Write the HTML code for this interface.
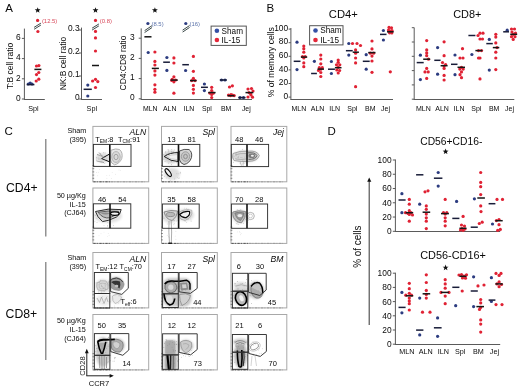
<!DOCTYPE html>
<html><head><meta charset="utf-8"><style>
html,body{margin:0;padding:0;background:#fff;width:520px;height:388px;overflow:hidden;}
svg{display:block;filter:blur(0.3px);font-family:"Liberation Sans", sans-serif;}
</style></head><body>
<svg width="520" height="388" viewBox="0 0 520 388" font-family='"Liberation Sans", sans-serif'>
<rect width="520" height="388" fill="#fff"/>
<text x="5.2" y="12.4" font-size="11.5" text-anchor="start" fill="#0a0a0a" >A</text>
<text x="266.4" y="12.4" font-size="11.5" text-anchor="start" fill="#0a0a0a" >B</text>
<text x="4.6" y="135.2" font-size="11.5" text-anchor="start" fill="#0a0a0a" >C</text>
<text x="327.6" y="134.6" font-size="11.5" text-anchor="start" fill="#0a0a0a" >D</text>
<line x1="24.4" y1="28.6" x2="24.4" y2="99.3" stroke="#5a5a5a" stroke-width="1" />
<line x1="23.9" y1="99.5" x2="44.8" y2="99.5" stroke="#5a5a5a" stroke-width="1" />
<line x1="21.9" y1="99.0" x2="24.4" y2="99.0" stroke="#5a5a5a" stroke-width="1" />
<text x="20.6" y="100.8" font-size="8.4" text-anchor="end" fill="#0a0a0a" >0</text>
<line x1="21.9" y1="78.8" x2="24.4" y2="78.8" stroke="#5a5a5a" stroke-width="1" />
<text x="20.6" y="80.6" font-size="8.4" text-anchor="end" fill="#0a0a0a" >2</text>
<line x1="21.9" y1="58.6" x2="24.4" y2="58.6" stroke="#5a5a5a" stroke-width="1" />
<text x="20.6" y="60.4" font-size="8.4" text-anchor="end" fill="#0a0a0a" >4</text>
<line x1="21.9" y1="38.400000000000006" x2="24.4" y2="38.400000000000006" stroke="#5a5a5a" stroke-width="1" />
<text x="20.6" y="40.2" font-size="8.4" text-anchor="end" fill="#0a0a0a" >6</text>
<text x="10.0" y="66.0" font-size="8.6" text-anchor="middle" fill="#0a0a0a" transform="rotate(-90 10.0 66.0)" dominant-baseline="central" textLength="46.5" lengthAdjust="spacingAndGlyphs">T:B cell ratio</text>
<polygon points="37.70,7.20 38.46,9.25 40.65,9.34 38.94,10.70 39.52,12.81 37.70,11.60 35.88,12.81 36.46,10.70 34.75,9.34 36.94,9.25" fill="#111"/>
<circle cx="37.6" cy="20.4" r="1.6" fill="#e02234"/>
<text x="41.9" y="22.5" font-size="5.9" text-anchor="start" fill="#d8485a" >(12.5)</text>
<line x1="34.1" y1="27.35" x2="40.9" y2="23.15" stroke="#3c4a4a" stroke-width="1.0" />
<line x1="34.1" y1="29.25" x2="40.9" y2="25.049999999999997" stroke="#3c4a4a" stroke-width="1.0" />
<circle cx="37.9" cy="31.5" r="1.6" fill="#e02234"/>
<circle cx="36.5" cy="66" r="1.6" fill="#e02234"/>
<circle cx="38.9" cy="65.6" r="1.6" fill="#e02234"/>
<circle cx="38.8" cy="72.5" r="1.6" fill="#e02234"/>
<circle cx="36.5" cy="74.6" r="1.6" fill="#e02234"/>
<circle cx="38.8" cy="79.2" r="1.6" fill="#e02234"/>
<circle cx="36.2" cy="81" r="1.6" fill="#e02234"/>
<circle cx="28.3" cy="84" r="1.6" fill="#2c3c80"/>
<circle cx="30.2" cy="83.0" r="1.6" fill="#2c3c80"/>
<circle cx="32.0" cy="84.0" r="1.6" fill="#2c3c80"/>
<line x1="26.7" y1="84.6" x2="34.4" y2="84.6" stroke="#181c38" stroke-width="1.5" />
<line x1="34.4" y1="69.4" x2="41.4" y2="69.4" stroke="#151515" stroke-width="1.5" />
<text x="33.5" y="110.6" font-size="7.2" text-anchor="middle" fill="#0a0a0a" >Spl</text>
<line x1="81.5" y1="27.6" x2="81.5" y2="99.3" stroke="#5a5a5a" stroke-width="1" />
<line x1="81.0" y1="99.5" x2="102" y2="99.5" stroke="#5a5a5a" stroke-width="1" />
<line x1="79" y1="99.0" x2="81.5" y2="99.0" stroke="#5a5a5a" stroke-width="1" />
<text x="79.6" y="100.3" font-size="8.4" text-anchor="end" fill="#0a0a0a" >0</text>
<line x1="79" y1="76.0" x2="81.5" y2="76.0" stroke="#5a5a5a" stroke-width="1" />
<text x="79.6" y="77.3" font-size="8.4" text-anchor="end" fill="#0a0a0a" >0.1</text>
<line x1="79" y1="53.0" x2="81.5" y2="53.0" stroke="#5a5a5a" stroke-width="1" />
<text x="79.6" y="54.3" font-size="8.4" text-anchor="end" fill="#0a0a0a" >0.2</text>
<line x1="79" y1="30.0" x2="81.5" y2="30.0" stroke="#5a5a5a" stroke-width="1" />
<text x="79.6" y="31.3" font-size="8.4" text-anchor="end" fill="#0a0a0a" >0.3</text>
<text x="63.0" y="63.6" font-size="8.6" text-anchor="middle" fill="#0a0a0a" transform="rotate(-90 63.0 63.6)" dominant-baseline="central" textLength="53.5" lengthAdjust="spacingAndGlyphs">NK:B cell ratio</text>
<polygon points="95.50,7.20 96.26,9.25 98.45,9.34 96.74,10.70 97.32,12.81 95.50,11.60 93.68,12.81 94.26,10.70 92.55,9.34 94.74,9.25" fill="#111"/>
<circle cx="95.5" cy="20.4" r="1.6" fill="#e02234"/>
<text x="99.8" y="22.5" font-size="5.9" text-anchor="start" fill="#d8485a" >(0.8)</text>
<line x1="92.1" y1="28.150000000000002" x2="98.9" y2="23.95" stroke="#3c4a4a" stroke-width="1.0" />
<line x1="92.1" y1="30.05" x2="98.9" y2="25.849999999999998" stroke="#3c4a4a" stroke-width="1.0" />
<circle cx="95.5" cy="31.4" r="1.6" fill="#e02234"/>
<circle cx="95.5" cy="37.9" r="1.6" fill="#e02234"/>
<circle cx="95.5" cy="51" r="1.6" fill="#e02234"/>
<circle cx="92.6" cy="81" r="1.6" fill="#e02234"/>
<circle cx="95.5" cy="79.3" r="1.6" fill="#e02234"/>
<circle cx="97.8" cy="81.6" r="1.6" fill="#e02234"/>
<circle cx="95.5" cy="87.5" r="1.6" fill="#e02234"/>
<circle cx="87.8" cy="85.1" r="1.6" fill="#2c3c80"/>
<circle cx="87.8" cy="96" r="1.6" fill="#2c3c80"/>
<line x1="83.6" y1="89.3" x2="91.8" y2="89.3" stroke="#181c38" stroke-width="1.5" />
<line x1="92" y1="65.5" x2="99" y2="65.5" stroke="#151515" stroke-width="1.5" />
<text x="91.8" y="110.6" font-size="7.2" text-anchor="middle" fill="#0a0a0a" >Spl</text>
<line x1="141.2" y1="28.4" x2="141.2" y2="99.3" stroke="#5a5a5a" stroke-width="1" />
<line x1="140.7" y1="99.5" x2="252" y2="99.5" stroke="#5a5a5a" stroke-width="1" />
<line x1="138.7" y1="98.8" x2="141.2" y2="98.8" stroke="#5a5a5a" stroke-width="1" />
<text x="134.6" y="100.3" font-size="8.4" text-anchor="end" fill="#0a0a0a" >0</text>
<line x1="138.7" y1="78.6" x2="141.2" y2="78.6" stroke="#5a5a5a" stroke-width="1" />
<text x="134.6" y="80.1" font-size="8.4" text-anchor="end" fill="#0a0a0a" >1</text>
<line x1="138.7" y1="58.4" x2="141.2" y2="58.4" stroke="#5a5a5a" stroke-width="1" />
<text x="134.6" y="59.9" font-size="8.4" text-anchor="end" fill="#0a0a0a" >2</text>
<line x1="138.7" y1="38.2" x2="141.2" y2="38.2" stroke="#5a5a5a" stroke-width="1" />
<text x="134.6" y="39.7" font-size="8.4" text-anchor="end" fill="#0a0a0a" >3</text>
<text x="123.2" y="63.0" font-size="8.6" text-anchor="middle" fill="#0a0a0a" transform="rotate(-90 123.2 63.0)" dominant-baseline="central" textLength="54.8" lengthAdjust="spacingAndGlyphs">CD4:CD8 ratio</text>
<polygon points="154.90,7.20 155.66,9.25 157.85,9.34 156.14,10.70 156.72,12.81 154.90,11.60 153.08,12.81 153.66,10.70 151.95,9.34 154.14,9.25" fill="#111"/>
<circle cx="147.9" cy="23.5" r="1.6" fill="#2c3c80"/>
<text x="151.5" y="25.6" font-size="5.9" text-anchor="start" fill="#5a72aa" >(8.5)</text>
<line x1="144.60000000000002" y1="30.650000000000002" x2="152.0" y2="25.650000000000002" stroke="#3c4a4a" stroke-width="1.0" />
<line x1="144.60000000000002" y1="32.550000000000004" x2="152.0" y2="27.55" stroke="#3c4a4a" stroke-width="1.0" />
<circle cx="185.8" cy="23.5" r="1.6" fill="#2c3c80"/>
<text x="189.5" y="25.6" font-size="5.9" text-anchor="start" fill="#5a72aa" >(16)</text>
<line x1="182.6" y1="30.150000000000002" x2="189.6" y2="25.55" stroke="#3c4a4a" stroke-width="1.0" />
<line x1="182.6" y1="32.050000000000004" x2="189.6" y2="27.45" stroke="#3c4a4a" stroke-width="1.0" />
<line x1="144.4" y1="36.8" x2="151.5" y2="36.8" stroke="#151515" stroke-width="1.5" />
<circle cx="148.2" cy="52.5" r="1.6" fill="#2c3c80"/>
<circle cx="154.9" cy="52" r="1.6" fill="#e02234"/>
<circle cx="154.9" cy="61.4" r="1.6" fill="#e02234"/>
<circle cx="154.9" cy="65" r="1.6" fill="#e02234"/>
<circle cx="154.9" cy="70.9" r="1.6" fill="#e02234"/>
<circle cx="154.9" cy="75.1" r="1.6" fill="#e02234"/>
<circle cx="154.9" cy="84.8" r="1.6" fill="#e02234"/>
<circle cx="154.9" cy="89.3" r="1.6" fill="#e02234"/>
<circle cx="154.9" cy="92.2" r="1.6" fill="#e02234"/>
<line x1="151.8" y1="68.4" x2="158.9" y2="68.4" stroke="#151515" stroke-width="1.5" />
<circle cx="166.9" cy="57.5" r="1.6" fill="#2c3c80"/>
<circle cx="166.9" cy="70.4" r="1.6" fill="#2c3c80"/>
<line x1="163.2" y1="62.2" x2="169.9" y2="62.2" stroke="#181c38" stroke-width="1.5" />
<circle cx="173.9" cy="57.9" r="1.6" fill="#e02234"/>
<circle cx="173.9" cy="63" r="1.6" fill="#e02234"/>
<circle cx="173.9" cy="76.8" r="1.6" fill="#e02234"/>
<circle cx="172.2" cy="79.3" r="1.6" fill="#e02234"/>
<circle cx="175.6" cy="80" r="1.6" fill="#e02234"/>
<circle cx="173.9" cy="81.8" r="1.6" fill="#e02234"/>
<circle cx="173.9" cy="93.2" r="1.6" fill="#e02234"/>
<circle cx="171.8" cy="80.5" r="1.6" fill="#e02234"/>
<line x1="170.6" y1="80.1" x2="177.8" y2="80.1" stroke="#151515" stroke-width="1.5" />
<circle cx="185.6" cy="70.5" r="1.6" fill="#2c3c80"/>
<line x1="182.3" y1="64.7" x2="188.9" y2="64.7" stroke="#181c38" stroke-width="1.5" />
<circle cx="193.4" cy="56.4" r="1.6" fill="#e02234"/>
<circle cx="193.4" cy="71.3" r="1.6" fill="#e02234"/>
<circle cx="193.4" cy="78.3" r="1.6" fill="#e02234"/>
<circle cx="191.8" cy="80.6" r="1.6" fill="#e02234"/>
<circle cx="195" cy="80.6" r="1.6" fill="#e02234"/>
<circle cx="193.4" cy="85.4" r="1.6" fill="#e02234"/>
<circle cx="193.4" cy="89.3" r="1.6" fill="#e02234"/>
<circle cx="193.4" cy="93.1" r="1.6" fill="#e02234"/>
<line x1="190" y1="80.6" x2="196.6" y2="80.6" stroke="#151515" stroke-width="1.5" />
<circle cx="204.4" cy="84" r="1.6" fill="#2c3c80"/>
<circle cx="204.4" cy="90.6" r="1.6" fill="#2c3c80"/>
<line x1="201" y1="87.3" x2="207.9" y2="87.3" stroke="#181c38" stroke-width="1.5" />
<circle cx="211.7" cy="87.3" r="1.6" fill="#e02234"/>
<circle cx="211.7" cy="90.6" r="1.6" fill="#e02234"/>
<circle cx="209.8" cy="93.1" r="1.6" fill="#e02234"/>
<circle cx="213.5" cy="93.1" r="1.6" fill="#e02234"/>
<circle cx="211.7" cy="94.5" r="1.6" fill="#e02234"/>
<circle cx="211.7" cy="97.6" r="1.6" fill="#e02234"/>
<line x1="208.2" y1="92.6" x2="215.6" y2="92.6" stroke="#151515" stroke-width="1.5" />
<circle cx="221.5" cy="80" r="1.6" fill="#2c3c80"/>
<circle cx="225" cy="80" r="1.6" fill="#2c3c80"/>
<line x1="219.8" y1="80" x2="226.8" y2="80" stroke="#181c38" stroke-width="1.5" />
<circle cx="229.5" cy="87" r="1.6" fill="#e02234"/>
<circle cx="232.4" cy="85.8" r="1.6" fill="#e02234"/>
<circle cx="228.5" cy="95.1" r="1.6" fill="#e02234"/>
<circle cx="230.5" cy="95.6" r="1.6" fill="#e02234"/>
<circle cx="232.5" cy="95.1" r="1.6" fill="#e02234"/>
<circle cx="234.2" cy="95.6" r="1.6" fill="#e02234"/>
<circle cx="231" cy="94.5" r="1.6" fill="#e02234"/>
<line x1="227.6" y1="95.7" x2="234.5" y2="95.7" stroke="#151515" stroke-width="1.5" />
<circle cx="240" cy="97.6" r="1.6" fill="#2c3c80"/>
<circle cx="243.5" cy="97.6" r="1.6" fill="#2c3c80"/>
<line x1="238.4" y1="97.6" x2="245.5" y2="97.6" stroke="#181c38" stroke-width="1.5" />
<circle cx="248" cy="89" r="1.6" fill="#e02234"/>
<circle cx="251.5" cy="88.5" r="1.6" fill="#e02234"/>
<circle cx="253" cy="91" r="1.6" fill="#e02234"/>
<circle cx="249" cy="92.6" r="1.6" fill="#e02234"/>
<circle cx="251" cy="95" r="1.6" fill="#e02234"/>
<circle cx="248" cy="97" r="1.6" fill="#e02234"/>
<circle cx="252.5" cy="97.2" r="1.6" fill="#e02234"/>
<circle cx="250.5" cy="93.5" r="1.6" fill="#e02234"/>
<line x1="245.5" y1="92.6" x2="253.3" y2="92.6" stroke="#151515" stroke-width="1.5" />
<text x="150.2" y="111.3" font-size="6.9" text-anchor="middle" fill="#0a0a0a" >MLN</text>
<text x="169.7" y="111.3" font-size="6.9" text-anchor="middle" fill="#0a0a0a" >ALN</text>
<text x="188.9" y="111.3" font-size="6.9" text-anchor="middle" fill="#0a0a0a" >ILN</text>
<text x="206.9" y="111.3" font-size="6.9" text-anchor="middle" fill="#0a0a0a" >Spl</text>
<text x="226.2" y="111.3" font-size="6.9" text-anchor="middle" fill="#0a0a0a" >BM</text>
<text x="246.3" y="111.3" font-size="6.9" text-anchor="middle" fill="#0a0a0a" >Jej</text>
<rect x="211.1" y="26.1" width="35.2" height="19.3" fill="#fff" stroke="#555" stroke-width="1"/>
<circle cx="216.9" cy="30.8" r="2.3" fill="#3550a5"/>
<text x="221.6" y="33.9" font-size="8.2" text-anchor="start" fill="#0a0a0a" >Sham</text>
<circle cx="216.9" cy="40" r="2.3" fill="#e3283a"/>
<text x="221.6" y="42.9" font-size="8.2" text-anchor="start" fill="#0a0a0a" >IL-15</text>
<line x1="290.9" y1="28.0" x2="290.9" y2="99.6" stroke="#5a5a5a" stroke-width="1" />
<line x1="290.4" y1="99.5" x2="393" y2="99.5" stroke="#5a5a5a" stroke-width="1" />
<line x1="288.6" y1="97.1" x2="290.9" y2="97.1" stroke="#5a5a5a" stroke-width="1" />
<text x="288.2" y="98.8" font-size="8.4" text-anchor="end" fill="#0a0a0a" >0</text>
<line x1="288.6" y1="83.5" x2="290.9" y2="83.5" stroke="#5a5a5a" stroke-width="1" />
<text x="288.2" y="85.2" font-size="8.4" text-anchor="end" fill="#0a0a0a" >20</text>
<line x1="288.6" y1="69.89999999999999" x2="290.9" y2="69.89999999999999" stroke="#5a5a5a" stroke-width="1" />
<text x="288.2" y="71.6" font-size="8.4" text-anchor="end" fill="#0a0a0a" >40</text>
<line x1="288.6" y1="56.3" x2="290.9" y2="56.3" stroke="#5a5a5a" stroke-width="1" />
<text x="288.2" y="58.0" font-size="8.4" text-anchor="end" fill="#0a0a0a" >60</text>
<line x1="288.6" y1="42.699999999999996" x2="290.9" y2="42.699999999999996" stroke="#5a5a5a" stroke-width="1" />
<text x="288.2" y="44.4" font-size="8.4" text-anchor="end" fill="#0a0a0a" >80</text>
<line x1="288.6" y1="29.099999999999994" x2="290.9" y2="29.099999999999994" stroke="#5a5a5a" stroke-width="1" />
<text x="288.2" y="30.799999999999994" font-size="8.4" text-anchor="end" fill="#0a0a0a" >100</text>
<text x="271.0" y="62.2" font-size="8.6" text-anchor="middle" fill="#0a0a0a" transform="rotate(-90 271.0 62.2)" dominant-baseline="central" textLength="70.0" lengthAdjust="spacingAndGlyphs">% of memory cells</text>
<text x="328.8" y="18.2" font-size="11.4" text-anchor="start" fill="#0a0a0a" textLength="29.0" lengthAdjust="spacingAndGlyphs">CD4+</text>
<rect x="309.6" y="25.7" width="33.4" height="19.2" fill="#fff" stroke="#555" stroke-width="1"/>
<circle cx="315.5" cy="30.5" r="2.3" fill="#3550a5"/>
<text x="320.3" y="33.4" font-size="8.2" text-anchor="start" fill="#0a0a0a" >Sham</text>
<circle cx="315.5" cy="40" r="2.3" fill="#e3283a"/>
<text x="320.3" y="42.8" font-size="8.2" text-anchor="start" fill="#0a0a0a" >IL-15</text>
<circle cx="297" cy="42.2" r="1.6" fill="#2c3c80"/>
<circle cx="297" cy="69.6" r="1.6" fill="#2c3c80"/>
<line x1="293.7" y1="61.3" x2="300.5" y2="61.3" stroke="#181c38" stroke-width="1.5" />
<circle cx="303.8" cy="46" r="1.6" fill="#e02234"/>
<circle cx="303.8" cy="48.7" r="1.6" fill="#e02234"/>
<circle cx="303.8" cy="52.2" r="1.6" fill="#e02234"/>
<circle cx="302.5" cy="56.5" r="1.6" fill="#e02234"/>
<circle cx="305.2" cy="56.5" r="1.6" fill="#e02234"/>
<circle cx="303.8" cy="58" r="1.6" fill="#e02234"/>
<circle cx="303.8" cy="62.9" r="1.6" fill="#e02234"/>
<circle cx="303.8" cy="66.7" r="1.6" fill="#e02234"/>
<line x1="300.9" y1="57.1" x2="307.2" y2="57.1" stroke="#151515" stroke-width="1.5" />
<circle cx="314.4" cy="61.3" r="1.6" fill="#2c3c80"/>
<line x1="311.1" y1="73.5" x2="316.9" y2="73.5" stroke="#181c38" stroke-width="1.5" />
<circle cx="320.8" cy="55.1" r="1.6" fill="#e02234"/>
<circle cx="320.8" cy="59" r="1.6" fill="#e02234"/>
<circle cx="320.8" cy="63.8" r="1.6" fill="#e02234"/>
<circle cx="319.3" cy="67.7" r="1.6" fill="#e02234"/>
<circle cx="322.3" cy="67.7" r="1.6" fill="#e02234"/>
<circle cx="320.8" cy="69.2" r="1.6" fill="#e02234"/>
<circle cx="320.8" cy="72.5" r="1.6" fill="#e02234"/>
<circle cx="320.8" cy="76.5" r="1.6" fill="#e02234"/>
<circle cx="318.5" cy="70.5" r="1.6" fill="#e02234"/>
<line x1="317.5" y1="69.1" x2="324" y2="69.1" stroke="#151515" stroke-width="1.5" />
<circle cx="331.4" cy="61.5" r="1.6" fill="#2c3c80"/>
<circle cx="331.4" cy="73.5" r="1.6" fill="#2c3c80"/>
<line x1="328" y1="69.2" x2="334.9" y2="69.2" stroke="#181c38" stroke-width="1.5" />
<circle cx="338.2" cy="60" r="1.6" fill="#e02234"/>
<circle cx="338.2" cy="62.3" r="1.6" fill="#e02234"/>
<circle cx="336.5" cy="64.8" r="1.6" fill="#e02234"/>
<circle cx="339.8" cy="64.8" r="1.6" fill="#e02234"/>
<circle cx="338.2" cy="67.3" r="1.6" fill="#e02234"/>
<circle cx="336.8" cy="70" r="1.6" fill="#e02234"/>
<circle cx="339.6" cy="70.5" r="1.6" fill="#e02234"/>
<circle cx="338.2" cy="73" r="1.6" fill="#e02234"/>
<line x1="334.9" y1="67.7" x2="341.5" y2="67.7" stroke="#151515" stroke-width="1.5" />
<circle cx="348.8" cy="43.5" r="1.6" fill="#2c3c80"/>
<circle cx="348.8" cy="55.1" r="1.6" fill="#2c3c80"/>
<line x1="345.9" y1="50.7" x2="352.7" y2="50.7" stroke="#181c38" stroke-width="1.5" />
<circle cx="352.5" cy="43.5" r="1.6" fill="#e02234"/>
<circle cx="357" cy="43.5" r="1.6" fill="#e02234"/>
<circle cx="360.5" cy="45.5" r="1.6" fill="#e02234"/>
<circle cx="355.6" cy="49.9" r="1.6" fill="#e02234"/>
<circle cx="355.6" cy="53.2" r="1.6" fill="#e02234"/>
<circle cx="355.6" cy="58" r="1.6" fill="#e02234"/>
<circle cx="355.6" cy="62.9" r="1.6" fill="#e02234"/>
<circle cx="355.6" cy="86.7" r="1.6" fill="#e02234"/>
<line x1="352.7" y1="52.2" x2="358.9" y2="52.2" stroke="#151515" stroke-width="1.5" />
<circle cx="366.2" cy="54.7" r="1.6" fill="#2c3c80"/>
<circle cx="366.2" cy="69.2" r="1.6" fill="#2c3c80"/>
<line x1="362.8" y1="61.3" x2="369.7" y2="61.3" stroke="#181c38" stroke-width="1.5" />
<circle cx="372" cy="41" r="1.6" fill="#e02234"/>
<circle cx="372" cy="48.9" r="1.6" fill="#e02234"/>
<circle cx="370.4" cy="53.2" r="1.6" fill="#e02234"/>
<circle cx="373.6" cy="53.2" r="1.6" fill="#e02234"/>
<circle cx="372" cy="56.1" r="1.6" fill="#e02234"/>
<circle cx="372" cy="61" r="1.6" fill="#e02234"/>
<circle cx="372" cy="72.3" r="1.6" fill="#e02234"/>
<line x1="368.2" y1="52.6" x2="375.5" y2="52.6" stroke="#151515" stroke-width="1.5" />
<circle cx="383.4" cy="30.5" r="1.6" fill="#2c3c80"/>
<circle cx="383.4" cy="40" r="1.6" fill="#2c3c80"/>
<line x1="380" y1="34.4" x2="386.5" y2="34.4" stroke="#181c38" stroke-width="1.5" />
<circle cx="389" cy="27.4" r="1.6" fill="#e02234"/>
<circle cx="391.5" cy="27.8" r="1.6" fill="#e02234"/>
<circle cx="388.5" cy="30" r="1.6" fill="#e02234"/>
<circle cx="390.3" cy="31" r="1.6" fill="#e02234"/>
<circle cx="392" cy="30.5" r="1.6" fill="#e02234"/>
<circle cx="389.5" cy="32.8" r="1.6" fill="#e02234"/>
<circle cx="391.8" cy="33" r="1.6" fill="#e02234"/>
<circle cx="390.3" cy="71.8" r="1.6" fill="#e02234"/>
<line x1="387" y1="31.8" x2="393.7" y2="31.8" stroke="#151515" stroke-width="1.5" />
<text x="298.9" y="111.0" font-size="7.0" text-anchor="middle" fill="#0a0a0a" >MLN</text>
<text x="317.6" y="111.0" font-size="7.0" text-anchor="middle" fill="#0a0a0a" >ALN</text>
<text x="334.7" y="111.0" font-size="7.0" text-anchor="middle" fill="#0a0a0a" >ILN</text>
<text x="352.3" y="111.0" font-size="7.0" text-anchor="middle" fill="#0a0a0a" >Spl</text>
<text x="370.3" y="111.0" font-size="7.0" text-anchor="middle" fill="#0a0a0a" >BM</text>
<text x="385.5" y="111.0" font-size="7.0" text-anchor="middle" fill="#0a0a0a" >Jej</text>
<line x1="414.2" y1="27.6" x2="414.2" y2="99.6" stroke="#5a5a5a" stroke-width="1" />
<line x1="413.7" y1="99.5" x2="514.3" y2="99.5" stroke="#5a5a5a" stroke-width="1" />
<line x1="411.8" y1="99.2" x2="414.2" y2="99.2" stroke="#5a5a5a" stroke-width="1" />
<line x1="411.8" y1="84.9" x2="414.2" y2="84.9" stroke="#5a5a5a" stroke-width="1" />
<line x1="411.8" y1="70.6" x2="414.2" y2="70.6" stroke="#5a5a5a" stroke-width="1" />
<line x1="411.8" y1="56.3" x2="414.2" y2="56.3" stroke="#5a5a5a" stroke-width="1" />
<line x1="411.8" y1="42.0" x2="414.2" y2="42.0" stroke="#5a5a5a" stroke-width="1" />
<line x1="411.8" y1="27.700000000000003" x2="414.2" y2="27.700000000000003" stroke="#5a5a5a" stroke-width="1" />
<text x="453.2" y="18.2" font-size="11.4" text-anchor="start" fill="#0a0a0a" textLength="28.2" lengthAdjust="spacingAndGlyphs">CD8+</text>
<circle cx="420.4" cy="55.2" r="1.6" fill="#2c3c80"/>
<circle cx="420.4" cy="79.6" r="1.6" fill="#2c3c80"/>
<line x1="416.7" y1="62.6" x2="423.7" y2="62.6" stroke="#181c38" stroke-width="1.5" />
<circle cx="426.7" cy="40.6" r="1.6" fill="#e02234"/>
<circle cx="426.7" cy="49.9" r="1.6" fill="#e02234"/>
<circle cx="426.7" cy="52.9" r="1.6" fill="#e02234"/>
<circle cx="426.7" cy="55.7" r="1.6" fill="#e02234"/>
<circle cx="428.5" cy="59.2" r="1.6" fill="#e02234"/>
<circle cx="426.7" cy="68.4" r="1.6" fill="#e02234"/>
<circle cx="425" cy="71.9" r="1.6" fill="#e02234"/>
<circle cx="428.2" cy="71.9" r="1.6" fill="#e02234"/>
<circle cx="426.7" cy="78.4" r="1.6" fill="#e02234"/>
<line x1="423.2" y1="59.2" x2="430.2" y2="59.2" stroke="#151515" stroke-width="1.5" />
<circle cx="437.6" cy="47.6" r="1.6" fill="#2c3c80"/>
<circle cx="437.6" cy="74.2" r="1.6" fill="#2c3c80"/>
<line x1="434.3" y1="60.3" x2="440.6" y2="60.3" stroke="#181c38" stroke-width="1.5" />
<circle cx="444.1" cy="41.8" r="1.6" fill="#e02234"/>
<circle cx="444.1" cy="55.7" r="1.6" fill="#e02234"/>
<circle cx="442.5" cy="62.6" r="1.6" fill="#e02234"/>
<circle cx="445.6" cy="64.5" r="1.6" fill="#e02234"/>
<circle cx="444.1" cy="66" r="1.6" fill="#e02234"/>
<circle cx="444.1" cy="68.4" r="1.6" fill="#e02234"/>
<circle cx="444.1" cy="75.4" r="1.6" fill="#e02234"/>
<circle cx="444.1" cy="80" r="1.6" fill="#e02234"/>
<line x1="440.6" y1="65.7" x2="447.6" y2="65.7" stroke="#151515" stroke-width="1.5" />
<circle cx="455" cy="55" r="1.6" fill="#2c3c80"/>
<circle cx="455" cy="74.7" r="1.6" fill="#2c3c80"/>
<line x1="451" y1="64.3" x2="457.5" y2="64.3" stroke="#181c38" stroke-width="1.5" />
<circle cx="462.5" cy="48.7" r="1.6" fill="#e02234"/>
<circle cx="460" cy="58" r="1.6" fill="#e02234"/>
<circle cx="463" cy="58" r="1.6" fill="#e02234"/>
<circle cx="461.5" cy="67.3" r="1.6" fill="#e02234"/>
<circle cx="459.8" cy="69.1" r="1.6" fill="#e02234"/>
<circle cx="463.2" cy="69.1" r="1.6" fill="#e02234"/>
<circle cx="461.5" cy="71.9" r="1.6" fill="#e02234"/>
<circle cx="460" cy="74.7" r="1.6" fill="#e02234"/>
<circle cx="461.5" cy="77.7" r="1.6" fill="#e02234"/>
<line x1="457.5" y1="67.3" x2="465" y2="67.3" stroke="#151515" stroke-width="1.5" />
<circle cx="471.9" cy="54.5" r="1.6" fill="#2c3c80"/>
<line x1="468.4" y1="35.5" x2="475.4" y2="35.5" stroke="#181c38" stroke-width="1.5" />
<circle cx="480" cy="33.2" r="1.6" fill="#e02234"/>
<circle cx="483" cy="33.2" r="1.6" fill="#e02234"/>
<circle cx="478" cy="35.5" r="1.6" fill="#e02234"/>
<circle cx="480" cy="39" r="1.6" fill="#e02234"/>
<circle cx="482.5" cy="39" r="1.6" fill="#e02234"/>
<circle cx="478.5" cy="50.6" r="1.6" fill="#e02234"/>
<circle cx="481.5" cy="50.6" r="1.6" fill="#e02234"/>
<circle cx="480" cy="58" r="1.6" fill="#e02234"/>
<circle cx="478.5" cy="58" r="1.6" fill="#e02234"/>
<circle cx="480" cy="78.9" r="1.6" fill="#e02234"/>
<line x1="475.4" y1="50.6" x2="482.4" y2="50.6" stroke="#151515" stroke-width="1.5" />
<circle cx="489.3" cy="39.4" r="1.6" fill="#2c3c80"/>
<circle cx="489.3" cy="70.1" r="1.6" fill="#2c3c80"/>
<line x1="486.3" y1="43.6" x2="492.8" y2="43.6" stroke="#181c38" stroke-width="1.5" />
<circle cx="495.8" cy="34.3" r="1.6" fill="#e02234"/>
<circle cx="495.8" cy="37.1" r="1.6" fill="#e02234"/>
<circle cx="495.8" cy="42.9" r="1.6" fill="#e02234"/>
<circle cx="497" cy="47.6" r="1.6" fill="#e02234"/>
<circle cx="495.8" cy="52.2" r="1.6" fill="#e02234"/>
<circle cx="495.8" cy="58" r="1.6" fill="#e02234"/>
<circle cx="495.8" cy="69.6" r="1.6" fill="#e02234"/>
<line x1="492.8" y1="47.6" x2="499.3" y2="47.6" stroke="#151515" stroke-width="1.5" />
<circle cx="507.2" cy="30.2" r="1.6" fill="#2c3c80"/>
<line x1="503.2" y1="31.8" x2="509" y2="31.8" stroke="#181c38" stroke-width="1.5" />
<circle cx="511.5" cy="29" r="1.6" fill="#e02234"/>
<circle cx="514.5" cy="29" r="1.6" fill="#e02234"/>
<circle cx="512" cy="32" r="1.6" fill="#e02234"/>
<circle cx="515.5" cy="33" r="1.6" fill="#e02234"/>
<circle cx="513.2" cy="34.3" r="1.6" fill="#e02234"/>
<circle cx="511.5" cy="36.7" r="1.6" fill="#e02234"/>
<circle cx="515" cy="36.7" r="1.6" fill="#e02234"/>
<circle cx="513.2" cy="39.4" r="1.6" fill="#e02234"/>
<line x1="510.2" y1="34.3" x2="517.2" y2="34.3" stroke="#151515" stroke-width="1.5" />
<text x="423.3" y="111.0" font-size="7.0" text-anchor="middle" fill="#0a0a0a" >MLN</text>
<text x="442.1" y="111.0" font-size="7.0" text-anchor="middle" fill="#0a0a0a" >ALN</text>
<text x="459.0" y="111.0" font-size="7.0" text-anchor="middle" fill="#0a0a0a" >ILN</text>
<text x="476.3" y="111.0" font-size="7.0" text-anchor="middle" fill="#0a0a0a" >Spl</text>
<text x="494.2" y="111.0" font-size="7.0" text-anchor="middle" fill="#0a0a0a" >BM</text>
<text x="509.6" y="111.0" font-size="7.0" text-anchor="middle" fill="#0a0a0a" >Jej</text>
<line x1="45.8" y1="139" x2="45.8" y2="236.4" stroke="#777" stroke-width="1.2" />
<line x1="45.8" y1="262" x2="45.8" y2="360" stroke="#777" stroke-width="1.2" />
<text x="6.0" y="192.4" font-size="12.2" text-anchor="start" fill="#0a0a0a" textLength="31.6" lengthAdjust="spacingAndGlyphs">CD4+</text>
<text x="5.6" y="317.6" font-size="12.2" text-anchor="start" fill="#0a0a0a" textLength="31.6" lengthAdjust="spacingAndGlyphs">CD8+</text>
<text x="86.2" y="133.4" font-size="7.2" text-anchor="end" fill="#0a0a0a" >Sham</text>
<text x="86.2" y="142.0" font-size="7.2" text-anchor="end" fill="#0a0a0a" >(395)</text>
<text x="86.2" y="260.0" font-size="7.2" text-anchor="end" fill="#0a0a0a" >Sham</text>
<text x="86.2" y="268.6" font-size="7.2" text-anchor="end" fill="#0a0a0a" >(395)</text>
<text x="85.8" y="197.6" font-size="7.2" text-anchor="end" fill="#0a0a0a" >50 µg/Kg</text>
<text x="85.8" y="206.6" font-size="7.2" text-anchor="end" fill="#0a0a0a" >IL-15</text>
<text x="85.8" y="215.1" font-size="7.2" text-anchor="end" fill="#0a0a0a" >(CJ64)</text>
<text x="85.8" y="323.1" font-size="7.2" text-anchor="end" fill="#0a0a0a" >50 µg/Kg</text>
<text x="85.8" y="332.1" font-size="7.2" text-anchor="end" fill="#0a0a0a" >IL-15</text>
<text x="85.8" y="340.6" font-size="7.2" text-anchor="end" fill="#0a0a0a" >(CJ64)</text>
<line x1="395.4" y1="159.5" x2="395.4" y2="231.8" stroke="#5a5a5a" stroke-width="1" />
<line x1="394.9" y1="231.5" x2="500.2" y2="231.5" stroke="#5a5a5a" stroke-width="1" />
<line x1="392.8" y1="231.3" x2="395.4" y2="231.3" stroke="#5a5a5a" stroke-width="1" />
<text x="391.6" y="234.20000000000002" font-size="8.4" text-anchor="end" fill="#0a0a0a" >0</text>
<line x1="392.8" y1="217.04000000000002" x2="395.4" y2="217.04000000000002" stroke="#5a5a5a" stroke-width="1" />
<text x="391.6" y="219.94000000000003" font-size="8.4" text-anchor="end" fill="#0a0a0a" >20</text>
<line x1="392.8" y1="202.78" x2="395.4" y2="202.78" stroke="#5a5a5a" stroke-width="1" />
<text x="391.6" y="205.68" font-size="8.4" text-anchor="end" fill="#0a0a0a" >40</text>
<line x1="392.8" y1="188.52" x2="395.4" y2="188.52" stroke="#5a5a5a" stroke-width="1" />
<text x="391.6" y="191.42000000000002" font-size="8.4" text-anchor="end" fill="#0a0a0a" >60</text>
<line x1="392.8" y1="174.26" x2="395.4" y2="174.26" stroke="#5a5a5a" stroke-width="1" />
<text x="391.6" y="177.16" font-size="8.4" text-anchor="end" fill="#0a0a0a" >80</text>
<line x1="392.8" y1="160.0" x2="395.4" y2="160.0" stroke="#5a5a5a" stroke-width="1" />
<text x="391.6" y="162.9" font-size="8.4" text-anchor="end" fill="#0a0a0a" >100</text>
<text x="420.2" y="145.2" font-size="10.4" text-anchor="start" fill="#0a0a0a" textLength="62.2" lengthAdjust="spacingAndGlyphs">CD56+CD16-</text>
<polygon points="445.60,148.50 446.36,150.55 448.55,150.64 446.84,152.00 447.42,154.11 445.60,152.90 443.78,154.11 444.36,152.00 442.65,150.64 444.84,150.55" fill="#111"/>
<line x1="395.4" y1="272.7" x2="395.4" y2="344.7" stroke="#5a5a5a" stroke-width="1" />
<line x1="394.9" y1="344.5" x2="500.2" y2="344.5" stroke="#5a5a5a" stroke-width="1" />
<line x1="392.8" y1="344.2" x2="395.4" y2="344.2" stroke="#5a5a5a" stroke-width="1" />
<text x="391.6" y="347.09999999999997" font-size="8.4" text-anchor="end" fill="#0a0a0a" >0</text>
<line x1="392.8" y1="330.0" x2="395.4" y2="330.0" stroke="#5a5a5a" stroke-width="1" />
<text x="391.6" y="332.9" font-size="8.4" text-anchor="end" fill="#0a0a0a" >20</text>
<line x1="392.8" y1="315.8" x2="395.4" y2="315.8" stroke="#5a5a5a" stroke-width="1" />
<text x="391.6" y="318.7" font-size="8.4" text-anchor="end" fill="#0a0a0a" >40</text>
<line x1="392.8" y1="301.6" x2="395.4" y2="301.6" stroke="#5a5a5a" stroke-width="1" />
<text x="391.6" y="304.5" font-size="8.4" text-anchor="end" fill="#0a0a0a" >60</text>
<line x1="392.8" y1="287.4" x2="395.4" y2="287.4" stroke="#5a5a5a" stroke-width="1" />
<text x="391.6" y="290.29999999999995" font-size="8.4" text-anchor="end" fill="#0a0a0a" >80</text>
<line x1="392.8" y1="273.2" x2="395.4" y2="273.2" stroke="#5a5a5a" stroke-width="1" />
<text x="391.6" y="276.09999999999997" font-size="8.4" text-anchor="end" fill="#0a0a0a" >100</text>
<text x="420.2" y="259.3" font-size="10.4" text-anchor="start" fill="#0a0a0a" textLength="65.8" lengthAdjust="spacingAndGlyphs">CD56-CD16+</text>
<polygon points="445.60,264.60 446.36,266.65 448.55,266.74 446.84,268.10 447.42,270.21 445.60,269.00 443.78,270.21 444.36,268.10 442.65,266.74 444.84,266.65" fill="#111"/>
<line x1="369.2" y1="325" x2="369.2" y2="181" stroke="#444" stroke-width="1.1" />
<path d="M367.2,181.8 L369.2,177.6 L371.3,181.8 Z" fill="#111"/>
<text x="357.2" y="246.6" font-size="10" text-anchor="middle" fill="#0a0a0a" transform="rotate(-90 357.2 246.6)" dominant-baseline="central" textLength="42.3" lengthAdjust="spacingAndGlyphs">% of cells</text>
<text x="406.9" y="354.20000000000005" font-size="7.2" text-anchor="middle" fill="#0a0a0a" >MLN</text>
<text x="425.8" y="354.20000000000005" font-size="7.2" text-anchor="middle" fill="#0a0a0a" >ALN</text>
<text x="443.3" y="354.20000000000005" font-size="7.2" text-anchor="middle" fill="#0a0a0a" >ILN</text>
<text x="460.2" y="354.20000000000005" font-size="7.2" text-anchor="middle" fill="#0a0a0a" >Spl</text>
<text x="478.3" y="354.20000000000005" font-size="7.2" text-anchor="middle" fill="#0a0a0a" >BM</text>
<text x="494.4" y="354.20000000000005" font-size="7.2" text-anchor="middle" fill="#0a0a0a" >Jej</text>
<circle cx="401.9" cy="193.7" r="1.6" fill="#2c3c80"/>
<circle cx="401.9" cy="212.7" r="1.6" fill="#2c3c80"/>
<line x1="398.5" y1="200" x2="405.6" y2="200" stroke="#181c38" stroke-width="1.5" />
<circle cx="409.3" cy="199.4" r="1.6" fill="#e02234"/>
<circle cx="409.3" cy="204.2" r="1.6" fill="#e02234"/>
<circle cx="409.3" cy="210.7" r="1.6" fill="#e02234"/>
<circle cx="405.5" cy="212.7" r="1.6" fill="#e02234"/>
<circle cx="411" cy="212.7" r="1.6" fill="#e02234"/>
<circle cx="408" cy="213.5" r="1.6" fill="#e02234"/>
<circle cx="409.3" cy="214.4" r="1.6" fill="#e02234"/>
<circle cx="412.5" cy="215" r="1.6" fill="#e02234"/>
<circle cx="409.3" cy="221.2" r="1.6" fill="#e02234"/>
<line x1="405.6" y1="212.7" x2="413.2" y2="212.7" stroke="#151515" stroke-width="1.5" />
<circle cx="419.7" cy="204.2" r="1.6" fill="#2c3c80"/>
<line x1="416.1" y1="174.8" x2="423.4" y2="174.8" stroke="#181c38" stroke-width="1.5" />
<circle cx="425" cy="191.8" r="1.6" fill="#e02234"/>
<circle cx="428" cy="190.8" r="1.6" fill="#e02234"/>
<circle cx="426.3" cy="205.9" r="1.6" fill="#e02234"/>
<circle cx="426.3" cy="209.3" r="1.6" fill="#e02234"/>
<circle cx="426.3" cy="214.1" r="1.6" fill="#e02234"/>
<circle cx="426.3" cy="217.8" r="1.6" fill="#e02234"/>
<circle cx="426.3" cy="221.2" r="1.6" fill="#e02234"/>
<circle cx="426.3" cy="228.6" r="1.6" fill="#e02234"/>
<line x1="422.6" y1="212.2" x2="430.2" y2="212.2" stroke="#151515" stroke-width="1.5" />
<circle cx="438.2" cy="172.5" r="1.6" fill="#2c3c80"/>
<circle cx="438.2" cy="186.1" r="1.6" fill="#2c3c80"/>
<line x1="433.9" y1="178.2" x2="442.4" y2="178.2" stroke="#181c38" stroke-width="1.5" />
<circle cx="445.2" cy="199.4" r="1.6" fill="#e02234"/>
<circle cx="443.5" cy="212.7" r="1.6" fill="#e02234"/>
<circle cx="446.8" cy="212.7" r="1.6" fill="#e02234"/>
<circle cx="445.2" cy="214.1" r="1.6" fill="#e02234"/>
<circle cx="445.2" cy="217.8" r="1.6" fill="#e02234"/>
<circle cx="445.2" cy="221.2" r="1.6" fill="#e02234"/>
<circle cx="445.2" cy="225.8" r="1.6" fill="#e02234"/>
<line x1="441" y1="213.6" x2="448.9" y2="213.6" stroke="#151515" stroke-width="1.5" />
<circle cx="456.6" cy="201.4" r="1.6" fill="#2c3c80"/>
<line x1="452.3" y1="218.4" x2="459.4" y2="218.4" stroke="#181c38" stroke-width="1.5" />
<circle cx="463.1" cy="216.4" r="1.6" fill="#e02234"/>
<circle cx="461.5" cy="225" r="1.6" fill="#e02234"/>
<circle cx="464.5" cy="226" r="1.6" fill="#e02234"/>
<circle cx="462" cy="228.5" r="1.6" fill="#e02234"/>
<circle cx="465" cy="229" r="1.6" fill="#e02234"/>
<circle cx="463.1" cy="230.3" r="1.6" fill="#e02234"/>
<circle cx="460.5" cy="230" r="1.6" fill="#e02234"/>
<line x1="459.4" y1="228.3" x2="466.5" y2="228.3" stroke="#151515" stroke-width="1.5" />
<circle cx="474.4" cy="198.8" r="1.6" fill="#2c3c80"/>
<line x1="470.7" y1="227.2" x2="477.8" y2="227.2" stroke="#181c38" stroke-width="1.5" />
<circle cx="480.7" cy="172.5" r="1.6" fill="#e02234"/>
<circle cx="480.7" cy="182.4" r="1.6" fill="#e02234"/>
<circle cx="480.7" cy="186.7" r="1.6" fill="#e02234"/>
<circle cx="480.7" cy="194.6" r="1.6" fill="#e02234"/>
<circle cx="480.7" cy="205.9" r="1.6" fill="#e02234"/>
<circle cx="481" cy="211.6" r="1.6" fill="#e02234"/>
<circle cx="479.3" cy="223.5" r="1.6" fill="#e02234"/>
<circle cx="482.2" cy="222.2" r="1.6" fill="#e02234"/>
<line x1="477.3" y1="198" x2="484.9" y2="198" stroke="#151515" stroke-width="1.5" />
<circle cx="492.5" cy="224" r="1.6" fill="#2c3c80"/>
<line x1="488.6" y1="203.7" x2="495.4" y2="203.7" stroke="#181c38" stroke-width="1.5" />
<circle cx="497" cy="199.4" r="1.6" fill="#e02234"/>
<circle cx="502.5" cy="199.4" r="1.6" fill="#e02234"/>
<circle cx="496.4" cy="220.6" r="1.6" fill="#e02234"/>
<circle cx="499" cy="219.6" r="1.6" fill="#e02234"/>
<circle cx="499" cy="224.7" r="1.6" fill="#e02234"/>
<circle cx="497.7" cy="230.3" r="1.6" fill="#e02234"/>
<circle cx="500.3" cy="229.4" r="1.6" fill="#e02234"/>
<line x1="495.4" y1="220.7" x2="502.7" y2="220.7" stroke="#151515" stroke-width="1.5" />
<circle cx="401.9" cy="292.4" r="1.6" fill="#2c3c80"/>
<circle cx="401.9" cy="312.8" r="1.6" fill="#2c3c80"/>
<line x1="398.5" y1="307.4" x2="405.6" y2="307.4" stroke="#181c38" stroke-width="1.5" />
<circle cx="409.3" cy="283.3" r="1.6" fill="#e02234"/>
<circle cx="409.3" cy="288.7" r="1.6" fill="#e02234"/>
<circle cx="409.3" cy="293.3" r="1.6" fill="#e02234"/>
<circle cx="405.8" cy="295.2" r="1.6" fill="#e02234"/>
<circle cx="411.5" cy="295.2" r="1.6" fill="#e02234"/>
<circle cx="409.3" cy="298.1" r="1.6" fill="#e02234"/>
<circle cx="409.3" cy="300.9" r="1.6" fill="#e02234"/>
<circle cx="409.3" cy="303.7" r="1.6" fill="#e02234"/>
<circle cx="409.3" cy="310" r="1.6" fill="#e02234"/>
<line x1="405.6" y1="295.8" x2="413.2" y2="295.8" stroke="#151515" stroke-width="1.5" />
<circle cx="419.7" cy="298.1" r="1.6" fill="#2c3c80"/>
<circle cx="419.7" cy="334.9" r="1.6" fill="#2c3c80"/>
<line x1="416.1" y1="330.1" x2="423.4" y2="330.1" stroke="#181c38" stroke-width="1.5" />
<circle cx="426.3" cy="274.8" r="1.6" fill="#e02234"/>
<circle cx="426.3" cy="282.5" r="1.6" fill="#e02234"/>
<circle cx="426.3" cy="290.4" r="1.6" fill="#e02234"/>
<circle cx="426.3" cy="294.4" r="1.6" fill="#e02234"/>
<circle cx="426.3" cy="298.1" r="1.6" fill="#e02234"/>
<circle cx="422.5" cy="312.2" r="1.6" fill="#e02234"/>
<circle cx="430" cy="312.2" r="1.6" fill="#e02234"/>
<line x1="422.6" y1="293.8" x2="430.2" y2="293.8" stroke="#151515" stroke-width="1.5" />
<circle cx="437.6" cy="317.9" r="1.6" fill="#2c3c80"/>
<circle cx="437.6" cy="336.3" r="1.6" fill="#2c3c80"/>
<line x1="433.9" y1="327.8" x2="441.6" y2="327.8" stroke="#181c38" stroke-width="1.5" />
<circle cx="445.2" cy="279.7" r="1.6" fill="#e02234"/>
<circle cx="445.2" cy="283.9" r="1.6" fill="#e02234"/>
<circle cx="445.2" cy="288.2" r="1.6" fill="#e02234"/>
<circle cx="441" cy="292.4" r="1.6" fill="#e02234"/>
<circle cx="449" cy="292.4" r="1.6" fill="#e02234"/>
<circle cx="445.2" cy="296.1" r="1.6" fill="#e02234"/>
<circle cx="445.2" cy="303.7" r="1.6" fill="#e02234"/>
<line x1="441" y1="292.4" x2="448.9" y2="292.4" stroke="#151515" stroke-width="1.5" />
<circle cx="455.7" cy="305.7" r="1.6" fill="#2c3c80"/>
<line x1="452.3" y1="287.3" x2="459.4" y2="287.3" stroke="#181c38" stroke-width="1.5" />
<circle cx="459" cy="275" r="1.6" fill="#e02234"/>
<circle cx="461.5" cy="274.6" r="1.6" fill="#e02234"/>
<circle cx="464" cy="276" r="1.6" fill="#e02234"/>
<circle cx="466.5" cy="274.8" r="1.6" fill="#e02234"/>
<circle cx="462.5" cy="278" r="1.6" fill="#e02234"/>
<circle cx="465.5" cy="278.2" r="1.6" fill="#e02234"/>
<circle cx="462.2" cy="291" r="1.6" fill="#e02234"/>
<line x1="459.4" y1="276.3" x2="466.5" y2="276.3" stroke="#151515" stroke-width="1.5" />
<circle cx="473.6" cy="276.8" r="1.6" fill="#2c3c80"/>
<circle cx="473.6" cy="306.6" r="1.6" fill="#2c3c80"/>
<line x1="470.7" y1="291" x2="477.8" y2="291" stroke="#181c38" stroke-width="1.5" />
<circle cx="478" cy="285.9" r="1.6" fill="#e02234"/>
<circle cx="484" cy="285" r="1.6" fill="#e02234"/>
<circle cx="480.7" cy="299.5" r="1.6" fill="#e02234"/>
<circle cx="480.7" cy="302.9" r="1.6" fill="#e02234"/>
<circle cx="480.7" cy="307.4" r="1.6" fill="#e02234"/>
<circle cx="479.5" cy="309.4" r="1.6" fill="#e02234"/>
<circle cx="480.7" cy="319.9" r="1.6" fill="#e02234"/>
<circle cx="480.7" cy="324.1" r="1.6" fill="#e02234"/>
<circle cx="480.7" cy="332.1" r="1.6" fill="#e02234"/>
<line x1="476.4" y1="306.6" x2="484" y2="306.6" stroke="#151515" stroke-width="1.5" />
<circle cx="491.4" cy="277.7" r="1.6" fill="#2c3c80"/>
<circle cx="491.4" cy="301.5" r="1.6" fill="#2c3c80"/>
<line x1="488.6" y1="300.1" x2="495.4" y2="300.1" stroke="#181c38" stroke-width="1.5" />
<circle cx="496" cy="273.4" r="1.6" fill="#e02234"/>
<circle cx="501" cy="273.4" r="1.6" fill="#e02234"/>
<circle cx="499.1" cy="275.4" r="1.6" fill="#e02234"/>
<circle cx="499.1" cy="281.9" r="1.6" fill="#e02234"/>
<circle cx="497" cy="283.9" r="1.6" fill="#e02234"/>
<circle cx="501.5" cy="284.5" r="1.6" fill="#e02234"/>
<circle cx="499.1" cy="286.7" r="1.6" fill="#e02234"/>
<circle cx="496" cy="304.6" r="1.6" fill="#e02234"/>
<circle cx="502" cy="304.6" r="1.6" fill="#e02234"/>
<line x1="495.4" y1="283.9" x2="502.7" y2="283.9" stroke="#151515" stroke-width="1.5" />
<defs><filter id="bl" x="-10%" y="-10%" width="120%" height="120%"><feGaussianBlur stdDeviation="0.55"/></filter><filter id="bl2" x="-20%" y="-20%" width="140%" height="140%"><feGaussianBlur stdDeviation="1.2"/></filter></defs>
<rect x="92.9" y="126.4" width="55.8" height="55.4" fill="none" stroke="#a8a8a8" stroke-width="1"/>
<line x1="92.5" y1="178.3" x2="94.2" y2="178.3" stroke="#666" stroke-width="0.8"/>
<line x1="92.5" y1="175.10000000000002" x2="94.2" y2="175.10000000000002" stroke="#666" stroke-width="0.8"/>
<line x1="92.5" y1="171.9" x2="94.2" y2="171.9" stroke="#666" stroke-width="0.8"/>
<line x1="92.5" y1="168.70000000000002" x2="94.2" y2="168.70000000000002" stroke="#666" stroke-width="0.8"/>
<line x1="92.5" y1="165.5" x2="94.2" y2="165.5" stroke="#666" stroke-width="0.8"/>
<line x1="93.4" y1="181.8" x2="110.9" y2="181.8" stroke="#555" stroke-width="1" stroke-dasharray="2.2 1.2 1 1.6"/>
<line x1="110.9" y1="181.8" x2="144.9" y2="181.8" stroke="#999" stroke-width="0.9" stroke-dasharray="2.2 1.2 1 1.6"/>
<rect x="161.5" y="126.4" width="55.8" height="55.4" fill="none" stroke="#a8a8a8" stroke-width="1"/>
<line x1="161.1" y1="178.3" x2="162.8" y2="178.3" stroke="#666" stroke-width="0.8"/>
<line x1="161.1" y1="175.10000000000002" x2="162.8" y2="175.10000000000002" stroke="#666" stroke-width="0.8"/>
<line x1="161.1" y1="171.9" x2="162.8" y2="171.9" stroke="#666" stroke-width="0.8"/>
<line x1="161.1" y1="168.70000000000002" x2="162.8" y2="168.70000000000002" stroke="#666" stroke-width="0.8"/>
<line x1="161.1" y1="165.5" x2="162.8" y2="165.5" stroke="#666" stroke-width="0.8"/>
<line x1="162.0" y1="181.8" x2="179.5" y2="181.8" stroke="#555" stroke-width="1" stroke-dasharray="2.2 1.2 1 1.6"/>
<line x1="179.5" y1="181.8" x2="213.5" y2="181.8" stroke="#999" stroke-width="0.9" stroke-dasharray="2.2 1.2 1 1.6"/>
<rect x="231.0" y="126.4" width="55.8" height="55.4" fill="none" stroke="#a8a8a8" stroke-width="1"/>
<line x1="230.6" y1="178.3" x2="232.3" y2="178.3" stroke="#666" stroke-width="0.8"/>
<line x1="230.6" y1="175.10000000000002" x2="232.3" y2="175.10000000000002" stroke="#666" stroke-width="0.8"/>
<line x1="230.6" y1="171.9" x2="232.3" y2="171.9" stroke="#666" stroke-width="0.8"/>
<line x1="230.6" y1="168.70000000000002" x2="232.3" y2="168.70000000000002" stroke="#666" stroke-width="0.8"/>
<line x1="230.6" y1="165.5" x2="232.3" y2="165.5" stroke="#666" stroke-width="0.8"/>
<line x1="231.5" y1="181.8" x2="249.0" y2="181.8" stroke="#555" stroke-width="1" stroke-dasharray="2.2 1.2 1 1.6"/>
<line x1="249.0" y1="181.8" x2="283.0" y2="181.8" stroke="#999" stroke-width="0.9" stroke-dasharray="2.2 1.2 1 1.6"/>
<rect x="92.9" y="188.0" width="55.8" height="55.4" fill="none" stroke="#a8a8a8" stroke-width="1"/>
<line x1="92.5" y1="239.9" x2="94.2" y2="239.9" stroke="#666" stroke-width="0.8"/>
<line x1="92.5" y1="236.70000000000002" x2="94.2" y2="236.70000000000002" stroke="#666" stroke-width="0.8"/>
<line x1="92.5" y1="233.5" x2="94.2" y2="233.5" stroke="#666" stroke-width="0.8"/>
<line x1="92.5" y1="230.3" x2="94.2" y2="230.3" stroke="#666" stroke-width="0.8"/>
<line x1="92.5" y1="227.1" x2="94.2" y2="227.1" stroke="#666" stroke-width="0.8"/>
<line x1="93.4" y1="243.4" x2="110.9" y2="243.4" stroke="#555" stroke-width="1" stroke-dasharray="2.2 1.2 1 1.6"/>
<line x1="110.9" y1="243.4" x2="144.9" y2="243.4" stroke="#999" stroke-width="0.9" stroke-dasharray="2.2 1.2 1 1.6"/>
<rect x="161.5" y="188.0" width="55.8" height="55.4" fill="none" stroke="#a8a8a8" stroke-width="1"/>
<line x1="161.1" y1="239.9" x2="162.8" y2="239.9" stroke="#666" stroke-width="0.8"/>
<line x1="161.1" y1="236.70000000000002" x2="162.8" y2="236.70000000000002" stroke="#666" stroke-width="0.8"/>
<line x1="161.1" y1="233.5" x2="162.8" y2="233.5" stroke="#666" stroke-width="0.8"/>
<line x1="161.1" y1="230.3" x2="162.8" y2="230.3" stroke="#666" stroke-width="0.8"/>
<line x1="161.1" y1="227.1" x2="162.8" y2="227.1" stroke="#666" stroke-width="0.8"/>
<line x1="162.0" y1="243.4" x2="179.5" y2="243.4" stroke="#555" stroke-width="1" stroke-dasharray="2.2 1.2 1 1.6"/>
<line x1="179.5" y1="243.4" x2="213.5" y2="243.4" stroke="#999" stroke-width="0.9" stroke-dasharray="2.2 1.2 1 1.6"/>
<rect x="231.0" y="188.0" width="55.8" height="55.4" fill="none" stroke="#a8a8a8" stroke-width="1"/>
<line x1="230.6" y1="239.9" x2="232.3" y2="239.9" stroke="#666" stroke-width="0.8"/>
<line x1="230.6" y1="236.70000000000002" x2="232.3" y2="236.70000000000002" stroke="#666" stroke-width="0.8"/>
<line x1="230.6" y1="233.5" x2="232.3" y2="233.5" stroke="#666" stroke-width="0.8"/>
<line x1="230.6" y1="230.3" x2="232.3" y2="230.3" stroke="#666" stroke-width="0.8"/>
<line x1="230.6" y1="227.1" x2="232.3" y2="227.1" stroke="#666" stroke-width="0.8"/>
<line x1="231.5" y1="243.4" x2="249.0" y2="243.4" stroke="#555" stroke-width="1" stroke-dasharray="2.2 1.2 1 1.6"/>
<line x1="249.0" y1="243.4" x2="283.0" y2="243.4" stroke="#999" stroke-width="0.9" stroke-dasharray="2.2 1.2 1 1.6"/>
<rect x="92.9" y="252.5" width="55.8" height="55.4" fill="none" stroke="#a8a8a8" stroke-width="1"/>
<line x1="92.5" y1="304.4" x2="94.2" y2="304.4" stroke="#666" stroke-width="0.8"/>
<line x1="92.5" y1="301.2" x2="94.2" y2="301.2" stroke="#666" stroke-width="0.8"/>
<line x1="92.5" y1="298.0" x2="94.2" y2="298.0" stroke="#666" stroke-width="0.8"/>
<line x1="92.5" y1="294.79999999999995" x2="94.2" y2="294.79999999999995" stroke="#666" stroke-width="0.8"/>
<line x1="92.5" y1="291.59999999999997" x2="94.2" y2="291.59999999999997" stroke="#666" stroke-width="0.8"/>
<line x1="93.4" y1="307.9" x2="110.9" y2="307.9" stroke="#555" stroke-width="1" stroke-dasharray="2.2 1.2 1 1.6"/>
<line x1="110.9" y1="307.9" x2="144.9" y2="307.9" stroke="#999" stroke-width="0.9" stroke-dasharray="2.2 1.2 1 1.6"/>
<rect x="161.5" y="252.5" width="55.8" height="55.4" fill="none" stroke="#a8a8a8" stroke-width="1"/>
<line x1="161.1" y1="304.4" x2="162.8" y2="304.4" stroke="#666" stroke-width="0.8"/>
<line x1="161.1" y1="301.2" x2="162.8" y2="301.2" stroke="#666" stroke-width="0.8"/>
<line x1="161.1" y1="298.0" x2="162.8" y2="298.0" stroke="#666" stroke-width="0.8"/>
<line x1="161.1" y1="294.79999999999995" x2="162.8" y2="294.79999999999995" stroke="#666" stroke-width="0.8"/>
<line x1="161.1" y1="291.59999999999997" x2="162.8" y2="291.59999999999997" stroke="#666" stroke-width="0.8"/>
<line x1="162.0" y1="307.9" x2="179.5" y2="307.9" stroke="#555" stroke-width="1" stroke-dasharray="2.2 1.2 1 1.6"/>
<line x1="179.5" y1="307.9" x2="213.5" y2="307.9" stroke="#999" stroke-width="0.9" stroke-dasharray="2.2 1.2 1 1.6"/>
<rect x="231.0" y="252.5" width="55.8" height="55.4" fill="none" stroke="#a8a8a8" stroke-width="1"/>
<line x1="230.6" y1="304.4" x2="232.3" y2="304.4" stroke="#666" stroke-width="0.8"/>
<line x1="230.6" y1="301.2" x2="232.3" y2="301.2" stroke="#666" stroke-width="0.8"/>
<line x1="230.6" y1="298.0" x2="232.3" y2="298.0" stroke="#666" stroke-width="0.8"/>
<line x1="230.6" y1="294.79999999999995" x2="232.3" y2="294.79999999999995" stroke="#666" stroke-width="0.8"/>
<line x1="230.6" y1="291.59999999999997" x2="232.3" y2="291.59999999999997" stroke="#666" stroke-width="0.8"/>
<line x1="231.5" y1="307.9" x2="249.0" y2="307.9" stroke="#555" stroke-width="1" stroke-dasharray="2.2 1.2 1 1.6"/>
<line x1="249.0" y1="307.9" x2="283.0" y2="307.9" stroke="#999" stroke-width="0.9" stroke-dasharray="2.2 1.2 1 1.6"/>
<rect x="92.9" y="314.5" width="55.8" height="55.4" fill="none" stroke="#a8a8a8" stroke-width="1"/>
<line x1="92.5" y1="366.4" x2="94.2" y2="366.4" stroke="#666" stroke-width="0.8"/>
<line x1="92.5" y1="363.2" x2="94.2" y2="363.2" stroke="#666" stroke-width="0.8"/>
<line x1="92.5" y1="360.0" x2="94.2" y2="360.0" stroke="#666" stroke-width="0.8"/>
<line x1="92.5" y1="356.79999999999995" x2="94.2" y2="356.79999999999995" stroke="#666" stroke-width="0.8"/>
<line x1="92.5" y1="353.59999999999997" x2="94.2" y2="353.59999999999997" stroke="#666" stroke-width="0.8"/>
<line x1="93.4" y1="369.9" x2="110.9" y2="369.9" stroke="#555" stroke-width="1" stroke-dasharray="2.2 1.2 1 1.6"/>
<line x1="110.9" y1="369.9" x2="144.9" y2="369.9" stroke="#999" stroke-width="0.9" stroke-dasharray="2.2 1.2 1 1.6"/>
<rect x="161.5" y="314.5" width="55.8" height="55.4" fill="none" stroke="#a8a8a8" stroke-width="1"/>
<line x1="161.1" y1="366.4" x2="162.8" y2="366.4" stroke="#666" stroke-width="0.8"/>
<line x1="161.1" y1="363.2" x2="162.8" y2="363.2" stroke="#666" stroke-width="0.8"/>
<line x1="161.1" y1="360.0" x2="162.8" y2="360.0" stroke="#666" stroke-width="0.8"/>
<line x1="161.1" y1="356.79999999999995" x2="162.8" y2="356.79999999999995" stroke="#666" stroke-width="0.8"/>
<line x1="161.1" y1="353.59999999999997" x2="162.8" y2="353.59999999999997" stroke="#666" stroke-width="0.8"/>
<line x1="162.0" y1="369.9" x2="179.5" y2="369.9" stroke="#555" stroke-width="1" stroke-dasharray="2.2 1.2 1 1.6"/>
<line x1="179.5" y1="369.9" x2="213.5" y2="369.9" stroke="#999" stroke-width="0.9" stroke-dasharray="2.2 1.2 1 1.6"/>
<rect x="231.0" y="314.5" width="55.8" height="55.4" fill="none" stroke="#a8a8a8" stroke-width="1"/>
<line x1="230.6" y1="366.4" x2="232.3" y2="366.4" stroke="#666" stroke-width="0.8"/>
<line x1="230.6" y1="363.2" x2="232.3" y2="363.2" stroke="#666" stroke-width="0.8"/>
<line x1="230.6" y1="360.0" x2="232.3" y2="360.0" stroke="#666" stroke-width="0.8"/>
<line x1="230.6" y1="356.79999999999995" x2="232.3" y2="356.79999999999995" stroke="#666" stroke-width="0.8"/>
<line x1="230.6" y1="353.59999999999997" x2="232.3" y2="353.59999999999997" stroke="#666" stroke-width="0.8"/>
<line x1="231.5" y1="369.9" x2="249.0" y2="369.9" stroke="#555" stroke-width="1" stroke-dasharray="2.2 1.2 1 1.6"/>
<line x1="249.0" y1="369.9" x2="283.0" y2="369.9" stroke="#999" stroke-width="0.9" stroke-dasharray="2.2 1.2 1 1.6"/>
<text x="146.2" y="135.4" font-size="8.6" text-anchor="end" fill="#0a0a0a" font-style="italic">ALN</text>
<text x="215.0" y="135.4" font-size="8.6" text-anchor="end" fill="#0a0a0a" font-style="italic">Spl</text>
<text x="284.0" y="135.4" font-size="8.6" text-anchor="end" fill="#0a0a0a" font-style="italic">Jej</text>
<text x="146.2" y="261.6" font-size="8.6" text-anchor="end" fill="#0a0a0a" font-style="italic">ALN</text>
<text x="215.0" y="261.6" font-size="8.6" text-anchor="end" fill="#0a0a0a" font-style="italic">Spl</text>
<text x="283.4" y="261.6" font-size="8.6" text-anchor="end" fill="#0a0a0a" font-style="italic">BM</text>
<g filter="url(#bl2)">
<ellipse cx="103" cy="158" rx="7" ry="5" fill="#dedede"/>
</g>
<circle cx="100.5" cy="153.8" r="0.45" fill="#a6a6a6"/>
<circle cx="105.1" cy="152.9" r="0.45" fill="#a6a6a6"/>
<circle cx="103.5" cy="156.4" r="0.45" fill="#a6a6a6"/>
<circle cx="96.8" cy="158.1" r="0.45" fill="#a6a6a6"/>
<circle cx="96.5" cy="157.2" r="0.45" fill="#a6a6a6"/>
<circle cx="101.9" cy="161.9" r="0.45" fill="#a6a6a6"/>
<circle cx="97.7" cy="154.7" r="0.45" fill="#a6a6a6"/>
<circle cx="104.8" cy="163.4" r="0.45" fill="#a6a6a6"/>
<circle cx="104.1" cy="156.8" r="0.45" fill="#a6a6a6"/>
<circle cx="108.0" cy="155.5" r="0.45" fill="#a6a6a6"/>
<circle cx="100.3" cy="161.8" r="0.45" fill="#a6a6a6"/>
<circle cx="98.5" cy="159.0" r="0.45" fill="#a6a6a6"/>
<circle cx="104.9" cy="156.5" r="0.45" fill="#a6a6a6"/>
<circle cx="103.7" cy="152.8" r="0.45" fill="#a6a6a6"/>
<circle cx="105.5" cy="157.1" r="0.45" fill="#a6a6a6"/>
<circle cx="100.4" cy="159.0" r="0.45" fill="#a6a6a6"/>
<circle cx="102.3" cy="155.6" r="0.45" fill="#a6a6a6"/>
<circle cx="107.1" cy="160.4" r="0.45" fill="#a6a6a6"/>
<circle cx="99.4" cy="158.9" r="0.45" fill="#a6a6a6"/>
<circle cx="103.4" cy="162.5" r="0.45" fill="#a6a6a6"/>
<circle cx="106.2" cy="155.5" r="0.45" fill="#a6a6a6"/>
<circle cx="101.9" cy="161.1" r="0.45" fill="#a6a6a6"/>
<circle cx="98.1" cy="157.9" r="0.45" fill="#a6a6a6"/>
<circle cx="96.5" cy="160.0" r="0.45" fill="#a6a6a6"/>
<circle cx="106.7" cy="158.9" r="0.45" fill="#a6a6a6"/>
<circle cx="120.5" cy="170.4" r="0.45" fill="#dadada"/>
<circle cx="115.5" cy="174.3" r="0.45" fill="#dadada"/>
<circle cx="112.2" cy="172.4" r="0.45" fill="#dadada"/>
<circle cx="109.3" cy="175.3" r="0.45" fill="#dadada"/>
<circle cx="97.7" cy="175.8" r="0.45" fill="#dadada"/>
<circle cx="119.0" cy="170.0" r="0.45" fill="#dadada"/>
<circle cx="106.8" cy="175.4" r="0.45" fill="#dadada"/>
<circle cx="96.6" cy="172.5" r="0.45" fill="#dadada"/>
<circle cx="99.6" cy="169.5" r="0.45" fill="#dadada"/>
<circle cx="106.9" cy="178.2" r="0.45" fill="#dadada"/>
<circle cx="98.3" cy="172.3" r="0.45" fill="#dadada"/>
<circle cx="111.4" cy="178.4" r="0.45" fill="#dadada"/>
<g filter="url(#bl)">
<path d="M111,150.2 Q116,148 119.5,149.5 Q123.2,152.5 121.8,158.5 Q119.5,163.8 114.5,164.8 Q111,163.5 110.5,160 Z" fill="#e7e7e7" stroke="#9f9f9f" stroke-width="0.8"/>
<ellipse cx="116" cy="157" rx="4.20" ry="5.40" transform="rotate(0 116 157)" fill="#dadada" stroke="#9f9f9f" stroke-width="0.7"/>
<ellipse cx="116" cy="157" rx="2.10" ry="2.70" transform="rotate(0 116 157)" fill="none" stroke="#8c8c8c" stroke-width="0.7"/>
<path d="M109.5,154 L101.6,158.6 L109.5,161.8" fill="none" stroke="#1a1a1a" stroke-width="1"/>
<path d="M97,154.5 Q101,155.5 104,157.5 M96.5,161 Q101,162 104,162.5 M99,152.5 L102,156" fill="none" stroke="#8c8c8c" stroke-width="0.7"/>
</g>
<g filter="url(#bl2)">
<ellipse cx="171" cy="157" rx="8" ry="6.5" fill="#d1d1d1"/>
<ellipse cx="172" cy="174" rx="8" ry="6" fill="#e0e0e0"/>
</g>
<circle cx="176.7" cy="162.8" r="0.45" fill="#9f9f9f"/>
<circle cx="167.0" cy="155.6" r="0.45" fill="#9f9f9f"/>
<circle cx="168.5" cy="163.1" r="0.45" fill="#9f9f9f"/>
<circle cx="165.2" cy="152.7" r="0.45" fill="#9f9f9f"/>
<circle cx="166.2" cy="156.8" r="0.45" fill="#9f9f9f"/>
<circle cx="172.6" cy="153.2" r="0.45" fill="#9f9f9f"/>
<circle cx="168.6" cy="158.1" r="0.45" fill="#9f9f9f"/>
<circle cx="179.2" cy="160.0" r="0.45" fill="#9f9f9f"/>
<circle cx="171.3" cy="158.9" r="0.45" fill="#9f9f9f"/>
<circle cx="174.2" cy="149.9" r="0.45" fill="#9f9f9f"/>
<circle cx="178.2" cy="161.5" r="0.45" fill="#9f9f9f"/>
<circle cx="177.7" cy="161.8" r="0.45" fill="#9f9f9f"/>
<circle cx="169.1" cy="155.4" r="0.45" fill="#9f9f9f"/>
<circle cx="163.9" cy="159.1" r="0.45" fill="#9f9f9f"/>
<circle cx="165.8" cy="151.6" r="0.45" fill="#9f9f9f"/>
<circle cx="168.1" cy="149.8" r="0.45" fill="#9f9f9f"/>
<circle cx="163.8" cy="154.8" r="0.45" fill="#9f9f9f"/>
<circle cx="173.1" cy="151.4" r="0.45" fill="#9f9f9f"/>
<circle cx="166.5" cy="154.6" r="0.45" fill="#9f9f9f"/>
<circle cx="168.6" cy="151.0" r="0.45" fill="#9f9f9f"/>
<circle cx="170.4" cy="156.7" r="0.45" fill="#9f9f9f"/>
<circle cx="168.2" cy="153.2" r="0.45" fill="#9f9f9f"/>
<circle cx="176.9" cy="151.6" r="0.45" fill="#9f9f9f"/>
<circle cx="171.5" cy="151.3" r="0.45" fill="#9f9f9f"/>
<circle cx="171.8" cy="149.4" r="0.45" fill="#9f9f9f"/>
<circle cx="171.5" cy="164.7" r="0.45" fill="#9f9f9f"/>
<circle cx="177.5" cy="160.1" r="0.45" fill="#9f9f9f"/>
<circle cx="166.7" cy="154.9" r="0.45" fill="#9f9f9f"/>
<circle cx="165.0" cy="161.4" r="0.45" fill="#9f9f9f"/>
<circle cx="171.6" cy="161.5" r="0.45" fill="#9f9f9f"/>
<circle cx="168.9" cy="170.1" r="0.45" fill="#bcbcbc"/>
<circle cx="178.3" cy="178.3" r="0.45" fill="#bcbcbc"/>
<circle cx="177.7" cy="177.4" r="0.45" fill="#bcbcbc"/>
<circle cx="167.1" cy="174.2" r="0.45" fill="#bcbcbc"/>
<circle cx="169.4" cy="167.4" r="0.45" fill="#bcbcbc"/>
<circle cx="167.7" cy="176.7" r="0.45" fill="#bcbcbc"/>
<circle cx="180.2" cy="173.3" r="0.45" fill="#bcbcbc"/>
<circle cx="180.2" cy="172.1" r="0.45" fill="#bcbcbc"/>
<circle cx="167.0" cy="170.2" r="0.45" fill="#bcbcbc"/>
<circle cx="166.5" cy="169.9" r="0.45" fill="#bcbcbc"/>
<circle cx="174.2" cy="179.6" r="0.45" fill="#bcbcbc"/>
<circle cx="178.1" cy="173.7" r="0.45" fill="#bcbcbc"/>
<circle cx="174.8" cy="178.2" r="0.45" fill="#bcbcbc"/>
<circle cx="164.5" cy="176.2" r="0.45" fill="#bcbcbc"/>
<circle cx="179.4" cy="178.0" r="0.45" fill="#bcbcbc"/>
<circle cx="176.5" cy="173.7" r="0.45" fill="#bcbcbc"/>
<circle cx="166.2" cy="178.0" r="0.45" fill="#bcbcbc"/>
<circle cx="169.0" cy="178.2" r="0.45" fill="#bcbcbc"/>
<circle cx="180.5" cy="172.5" r="0.45" fill="#bcbcbc"/>
<circle cx="170.2" cy="180.3" r="0.45" fill="#bcbcbc"/>
<g filter="url(#bl)">
<path d="M164.2,156.5 Q170,152.5 178,152.6 L178,161.5 Q171,161.5 164.2,156.5 Z" fill="#f2f2f2" stroke="#1a1a1a" stroke-width="1"/>
<path d="M166.5,156.6 Q171,154.5 177,154.6 M166.5,156.8 Q171,159.5 177,159.6" fill="none" stroke="#b2b2b2" stroke-width="0.6"/>
<path d="M179.5,151 Q184,148.6 189,149.5 Q192.5,152 191.5,157.5 Q189.5,163.5 184,164.5 Q180.5,163.5 179.6,160 Z" fill="#d5d5d5" stroke="#404040" stroke-width="0.9"/>
<ellipse cx="185.5" cy="156.5" rx="4.20" ry="4.80" transform="rotate(0 185.5 156.5)" fill="#c5c5c5" stroke="#8c8c8c" stroke-width="0.7"/>
<ellipse cx="185.5" cy="156.5" rx="1.89" ry="2.16" transform="rotate(0 185.5 156.5)" fill="none" stroke="#797979" stroke-width="0.7"/>
<ellipse cx="168.2" cy="172.6" rx="1.9" ry="4.6" transform="rotate(-35 168.2 172.6)" fill="#f0f0f0" stroke="#070707" stroke-width="1.1"/>
</g>
<g filter="url(#bl2)">
<ellipse cx="245" cy="156.5" rx="13" ry="6" fill="#d7d7d7"/>
<ellipse cx="252" cy="156" rx="6" ry="4.5" fill="#bcbcbc"/>
</g>
<circle cx="247.4" cy="151.7" r="0.45" fill="#acacac"/>
<circle cx="233.5" cy="162.2" r="0.45" fill="#acacac"/>
<circle cx="238.4" cy="157.8" r="0.45" fill="#acacac"/>
<circle cx="253.3" cy="159.4" r="0.45" fill="#acacac"/>
<circle cx="242.6" cy="163.9" r="0.45" fill="#acacac"/>
<circle cx="240.4" cy="162.9" r="0.45" fill="#acacac"/>
<circle cx="249.8" cy="152.4" r="0.45" fill="#acacac"/>
<circle cx="236.0" cy="153.7" r="0.45" fill="#acacac"/>
<circle cx="235.8" cy="158.4" r="0.45" fill="#acacac"/>
<circle cx="236.2" cy="155.7" r="0.45" fill="#acacac"/>
<circle cx="238.5" cy="156.3" r="0.45" fill="#acacac"/>
<circle cx="244.0" cy="163.5" r="0.45" fill="#acacac"/>
<circle cx="240.1" cy="163.7" r="0.45" fill="#acacac"/>
<circle cx="242.0" cy="157.5" r="0.45" fill="#acacac"/>
<circle cx="242.6" cy="149.3" r="0.45" fill="#acacac"/>
<circle cx="240.6" cy="151.9" r="0.45" fill="#acacac"/>
<circle cx="234.1" cy="156.6" r="0.45" fill="#acacac"/>
<circle cx="247.4" cy="157.9" r="0.45" fill="#acacac"/>
<circle cx="237.8" cy="157.3" r="0.45" fill="#acacac"/>
<circle cx="243.3" cy="161.5" r="0.45" fill="#acacac"/>
<circle cx="232.5" cy="158.0" r="0.45" fill="#acacac"/>
<circle cx="236.0" cy="153.4" r="0.45" fill="#acacac"/>
<circle cx="248.5" cy="157.1" r="0.45" fill="#acacac"/>
<circle cx="243.5" cy="161.2" r="0.45" fill="#acacac"/>
<circle cx="251.9" cy="156.1" r="0.45" fill="#acacac"/>
<circle cx="244.7" cy="157.1" r="0.45" fill="#acacac"/>
<circle cx="242.3" cy="160.1" r="0.45" fill="#acacac"/>
<circle cx="240.9" cy="157.5" r="0.45" fill="#acacac"/>
<circle cx="241.5" cy="164.1" r="0.45" fill="#acacac"/>
<circle cx="246.8" cy="163.0" r="0.45" fill="#acacac"/>
<g filter="url(#bl)">
<path d="M233,153.5 Q240,150.5 248,151.2 Q257,150.3 259.3,155.5 Q257.8,161 249,161.4 Q241,162 234,160.5 Q231.8,157 233,153.5 Z" fill="none" stroke="#949494" stroke-width="0.8"/>
<path d="M235,155 Q240,153 246,153.5 M235.5,159 Q241,160 246,159" fill="none" stroke="#9f9f9f" stroke-width="0.7"/>
<path d="M248,152.8 Q255,152 257,155.6 Q255.5,159.5 248.5,159.5" fill="none" stroke="#666666" stroke-width="0.9"/>
<ellipse cx="251.8" cy="155.8" rx="3.3" ry="2.3" fill="#7b7b7b"/>
<ellipse cx="252.4" cy="155.8" rx="1.5" ry="1.0" fill="#f0f0f0"/>
<path d="M240,161.5 L241.5,166 M243.5,161.5 L243,166" stroke="#b2b2b2" stroke-width="0.6"/>
</g>
<g filter="url(#bl2)">
<ellipse cx="108" cy="216" rx="14" ry="7" fill="#e3e3e3"/>
</g>
<circle cx="107.5" cy="226.1" r="0.45" fill="#b2b2b2"/>
<circle cx="114.8" cy="213.2" r="0.45" fill="#b2b2b2"/>
<circle cx="96.2" cy="218.1" r="0.45" fill="#b2b2b2"/>
<circle cx="94.9" cy="214.9" r="0.45" fill="#b2b2b2"/>
<circle cx="94.9" cy="221.7" r="0.45" fill="#b2b2b2"/>
<circle cx="113.4" cy="225.4" r="0.45" fill="#b2b2b2"/>
<circle cx="97.0" cy="222.5" r="0.45" fill="#b2b2b2"/>
<circle cx="110.2" cy="213.3" r="0.45" fill="#b2b2b2"/>
<circle cx="103.4" cy="218.8" r="0.45" fill="#b2b2b2"/>
<circle cx="97.2" cy="217.9" r="0.45" fill="#b2b2b2"/>
<circle cx="106.4" cy="216.4" r="0.45" fill="#b2b2b2"/>
<circle cx="98.1" cy="216.1" r="0.45" fill="#b2b2b2"/>
<circle cx="107.4" cy="218.0" r="0.45" fill="#b2b2b2"/>
<circle cx="109.2" cy="219.2" r="0.45" fill="#b2b2b2"/>
<circle cx="95.7" cy="215.2" r="0.45" fill="#b2b2b2"/>
<circle cx="100.0" cy="213.1" r="0.45" fill="#b2b2b2"/>
<circle cx="104.0" cy="225.6" r="0.45" fill="#b2b2b2"/>
<circle cx="114.3" cy="215.1" r="0.45" fill="#b2b2b2"/>
<circle cx="107.8" cy="222.2" r="0.45" fill="#b2b2b2"/>
<circle cx="110.9" cy="217.8" r="0.45" fill="#b2b2b2"/>
<circle cx="109.5" cy="223.8" r="0.45" fill="#b2b2b2"/>
<circle cx="104.8" cy="216.4" r="0.45" fill="#b2b2b2"/>
<circle cx="107.4" cy="225.8" r="0.45" fill="#b2b2b2"/>
<circle cx="100.0" cy="213.1" r="0.45" fill="#b2b2b2"/>
<circle cx="106.7" cy="214.8" r="0.45" fill="#b2b2b2"/>
<circle cx="101.0" cy="233.7" r="0.45" fill="#dedede"/>
<circle cx="108.2" cy="233.5" r="0.45" fill="#dedede"/>
<circle cx="104.0" cy="232.1" r="0.45" fill="#dedede"/>
<circle cx="107.7" cy="236.6" r="0.45" fill="#dedede"/>
<circle cx="99.0" cy="235.7" r="0.45" fill="#dedede"/>
<circle cx="109.1" cy="235.2" r="0.45" fill="#dedede"/>
<g filter="url(#bl)">
<path d="M95.5,211.5 Q108,207.8 121.2,209.6 Q120.5,214.5 116.5,217 Q108,221.2 102.5,221.6 Q97,217 95.5,211.5 Z" fill="#d7d7d7" stroke="#2d2d2d" stroke-width="1"/>
<path d="M98,212.3 Q108,210.3 118.5,211.3 Q116,215.5 110,217.8 Q103,219 98,212.3 Z" fill="#bcbcbc" stroke="#404040" stroke-width="0.8"/>
<path d="M100.5,213 Q106,212 110,213 Q106,216 100.5,213 Z" fill="#8c8c8c"/>
<ellipse cx="114.8" cy="213.6" rx="4.3" ry="1.8" fill="#f7f7f7" stroke="#000000" stroke-width="1.2"/>
</g>
<g filter="url(#bl2)">
<ellipse cx="170" cy="216" rx="8" ry="7" fill="#dedede"/>
<ellipse cx="185" cy="215" rx="9" ry="6" fill="#dedede"/>
</g>
<circle cx="169.9" cy="224.0" r="0.45" fill="#b2b2b2"/>
<circle cx="168.1" cy="218.1" r="0.45" fill="#b2b2b2"/>
<circle cx="167.2" cy="224.0" r="0.45" fill="#b2b2b2"/>
<circle cx="173.7" cy="220.4" r="0.45" fill="#b2b2b2"/>
<circle cx="168.3" cy="215.3" r="0.45" fill="#b2b2b2"/>
<circle cx="162.3" cy="222.3" r="0.45" fill="#b2b2b2"/>
<circle cx="165.6" cy="211.9" r="0.45" fill="#b2b2b2"/>
<circle cx="176.7" cy="221.1" r="0.45" fill="#b2b2b2"/>
<circle cx="166.1" cy="213.4" r="0.45" fill="#b2b2b2"/>
<circle cx="166.3" cy="217.3" r="0.45" fill="#b2b2b2"/>
<circle cx="163.8" cy="217.0" r="0.45" fill="#b2b2b2"/>
<circle cx="178.5" cy="218.8" r="0.45" fill="#b2b2b2"/>
<circle cx="166.6" cy="215.4" r="0.45" fill="#b2b2b2"/>
<circle cx="169.5" cy="218.0" r="0.45" fill="#b2b2b2"/>
<circle cx="164.6" cy="218.1" r="0.45" fill="#b2b2b2"/>
<circle cx="162.6" cy="216.2" r="0.45" fill="#b2b2b2"/>
<circle cx="166.5" cy="213.2" r="0.45" fill="#b2b2b2"/>
<circle cx="171.5" cy="218.5" r="0.45" fill="#b2b2b2"/>
<circle cx="174.5" cy="220.8" r="0.45" fill="#b2b2b2"/>
<circle cx="173.9" cy="224.8" r="0.45" fill="#b2b2b2"/>
<circle cx="168.0" cy="214.9" r="0.45" fill="#b2b2b2"/>
<circle cx="174.0" cy="220.6" r="0.45" fill="#b2b2b2"/>
<circle cx="177.1" cy="220.3" r="0.45" fill="#b2b2b2"/>
<circle cx="174.2" cy="223.6" r="0.45" fill="#b2b2b2"/>
<circle cx="163.5" cy="218.4" r="0.45" fill="#b2b2b2"/>
<circle cx="185.1" cy="221.4" r="0.45" fill="#bcbcbc"/>
<circle cx="191.1" cy="221.2" r="0.45" fill="#bcbcbc"/>
<circle cx="186.7" cy="222.3" r="0.45" fill="#bcbcbc"/>
<circle cx="188.7" cy="219.1" r="0.45" fill="#bcbcbc"/>
<circle cx="177.7" cy="213.8" r="0.45" fill="#bcbcbc"/>
<circle cx="186.2" cy="218.0" r="0.45" fill="#bcbcbc"/>
<circle cx="187.5" cy="218.9" r="0.45" fill="#bcbcbc"/>
<circle cx="184.8" cy="208.1" r="0.45" fill="#bcbcbc"/>
<circle cx="191.0" cy="220.0" r="0.45" fill="#bcbcbc"/>
<circle cx="185.1" cy="216.6" r="0.45" fill="#bcbcbc"/>
<circle cx="188.2" cy="209.1" r="0.45" fill="#bcbcbc"/>
<circle cx="189.7" cy="212.0" r="0.45" fill="#bcbcbc"/>
<circle cx="176.5" cy="212.2" r="0.45" fill="#bcbcbc"/>
<circle cx="189.6" cy="211.3" r="0.45" fill="#bcbcbc"/>
<circle cx="184.9" cy="214.1" r="0.45" fill="#bcbcbc"/>
<circle cx="184.6" cy="218.9" r="0.45" fill="#bcbcbc"/>
<circle cx="190.3" cy="217.9" r="0.45" fill="#bcbcbc"/>
<circle cx="187.9" cy="209.2" r="0.45" fill="#bcbcbc"/>
<circle cx="177.9" cy="212.1" r="0.45" fill="#bcbcbc"/>
<circle cx="189.9" cy="212.9" r="0.45" fill="#bcbcbc"/>
<circle cx="186.4" cy="208.2" r="0.45" fill="#bcbcbc"/>
<circle cx="176.2" cy="212.3" r="0.45" fill="#bcbcbc"/>
<circle cx="188.4" cy="219.1" r="0.45" fill="#bcbcbc"/>
<circle cx="188.5" cy="212.7" r="0.45" fill="#bcbcbc"/>
<circle cx="185.3" cy="215.4" r="0.45" fill="#bcbcbc"/>
<circle cx="171.7" cy="229.9" r="0.45" fill="#d1d1d1"/>
<circle cx="175.9" cy="231.2" r="0.45" fill="#d1d1d1"/>
<circle cx="167.2" cy="235.3" r="0.45" fill="#d1d1d1"/>
<circle cx="171.5" cy="232.3" r="0.45" fill="#d1d1d1"/>
<circle cx="169.1" cy="237.3" r="0.45" fill="#d1d1d1"/>
<circle cx="168.4" cy="236.4" r="0.45" fill="#d1d1d1"/>
<circle cx="175.2" cy="236.1" r="0.45" fill="#d1d1d1"/>
<circle cx="175.9" cy="239.3" r="0.45" fill="#d1d1d1"/>
<g filter="url(#bl)">
<path d="M164,212 Q171,209.5 177.5,211 Q177,217 172,220.5 Q166,219.5 164,212 Z" fill="#d5d5d5" stroke="#797979" stroke-width="0.8"/>
<ellipse cx="170.5" cy="214.5" rx="4.2" ry="2.1" fill="#bababa" stroke="#666666" stroke-width="0.6"/>
<path d="M169,221 Q168.5,232 169.5,243.5 M171.2,221 Q172,232 171.3,243.5" fill="none" stroke="#8c8c8c" stroke-width="0.7"/>
<path d="M168.5,243.2 L172,243.2" stroke="#070707" stroke-width="1.2"/>
<path d="M179.5,214.5 Q184,210.5 189.5,211.5 Q190.5,215.5 186,217.6 Q182,218 179.5,214.5 Z" fill="#f2f2f2" stroke="#070707" stroke-width="1.2"/>
<path d="M179,212.5 Q184,208.5 191.8,210.3 Q193,217 185,220.5 Q180,220 179,216" fill="none" stroke="#9f9f9f" stroke-width="0.7"/>
</g>
<g filter="url(#bl2)">
<ellipse cx="240" cy="216.5" rx="7.5" ry="6.5" fill="#d3d3d3"/>
</g>
<circle cx="236.2" cy="223.4" r="0.45" fill="#acacac"/>
<circle cx="240.8" cy="209.4" r="0.45" fill="#acacac"/>
<circle cx="232.1" cy="216.9" r="0.45" fill="#acacac"/>
<circle cx="240.1" cy="213.8" r="0.45" fill="#acacac"/>
<circle cx="234.5" cy="214.5" r="0.45" fill="#acacac"/>
<circle cx="237.7" cy="222.4" r="0.45" fill="#acacac"/>
<circle cx="248.7" cy="220.4" r="0.45" fill="#acacac"/>
<circle cx="248.2" cy="213.6" r="0.45" fill="#acacac"/>
<circle cx="238.7" cy="215.3" r="0.45" fill="#acacac"/>
<circle cx="238.5" cy="215.8" r="0.45" fill="#acacac"/>
<circle cx="237.1" cy="224.0" r="0.45" fill="#acacac"/>
<circle cx="236.5" cy="213.3" r="0.45" fill="#acacac"/>
<circle cx="241.2" cy="212.0" r="0.45" fill="#acacac"/>
<circle cx="238.7" cy="224.3" r="0.45" fill="#acacac"/>
<circle cx="247.9" cy="222.0" r="0.45" fill="#acacac"/>
<circle cx="243.4" cy="223.6" r="0.45" fill="#acacac"/>
<circle cx="248.9" cy="217.8" r="0.45" fill="#acacac"/>
<circle cx="245.2" cy="216.2" r="0.45" fill="#acacac"/>
<circle cx="245.5" cy="219.3" r="0.45" fill="#acacac"/>
<circle cx="237.2" cy="209.8" r="0.45" fill="#acacac"/>
<circle cx="240.5" cy="214.5" r="0.45" fill="#acacac"/>
<circle cx="237.4" cy="220.8" r="0.45" fill="#acacac"/>
<circle cx="241.2" cy="233.6" r="0.45" fill="#d5d5d5"/>
<circle cx="240.5" cy="234.7" r="0.45" fill="#d5d5d5"/>
<circle cx="237.3" cy="231.9" r="0.45" fill="#d5d5d5"/>
<circle cx="240.0" cy="232.6" r="0.45" fill="#d5d5d5"/>
<circle cx="239.6" cy="231.7" r="0.45" fill="#d5d5d5"/>
<g filter="url(#bl)">
<path d="M232.8,212 Q238,209.8 245.5,211.5 Q246,218 241.5,222.8 Q236,222.5 233.5,217.5 Q232.3,214.5 232.8,212 Z" fill="#bfbfbf" stroke="#7b7b7b" stroke-width="0.8"/>
<path d="M234.8,213 Q239,211.5 244,213 Q243.5,217.5 240.5,220.5 Q236.5,219 234.8,213 Z" fill="#999999" stroke="#666666" stroke-width="0.6"/>
<ellipse cx="239.8" cy="215.6" rx="2.5" ry="1.6" fill="#ededed"/>
<ellipse cx="250.5" cy="216" rx="3.8" ry="3.6" fill="none" stroke="#9f9f9f" stroke-width="0.8"/>
<ellipse cx="250.5" cy="216" rx="2" ry="1.8" fill="none" stroke="#b5b5b5" stroke-width="0.6"/>
</g>
<g filter="url(#bl2)">
<ellipse cx="103" cy="286" rx="7.5" ry="6.5" fill="#d7d7d7"/>
<ellipse cx="116" cy="283.5" rx="7.5" ry="6.5" fill="#b5b5b5"/>
<ellipse cx="104" cy="300" rx="8" ry="6" fill="#ededed"/>
<ellipse cx="117" cy="298" rx="6" ry="6" fill="#eaeaea"/>
</g>
<circle cx="100.5" cy="280.3" r="0.45" fill="#9f9f9f"/>
<circle cx="98.8" cy="282.6" r="0.45" fill="#9f9f9f"/>
<circle cx="104.1" cy="291.4" r="0.45" fill="#9f9f9f"/>
<circle cx="107.0" cy="284.8" r="0.45" fill="#9f9f9f"/>
<circle cx="101.6" cy="286.3" r="0.45" fill="#9f9f9f"/>
<circle cx="101.0" cy="283.7" r="0.45" fill="#9f9f9f"/>
<circle cx="96.0" cy="282.9" r="0.45" fill="#9f9f9f"/>
<circle cx="103.1" cy="287.8" r="0.45" fill="#9f9f9f"/>
<circle cx="108.8" cy="282.0" r="0.45" fill="#9f9f9f"/>
<circle cx="99.3" cy="282.5" r="0.45" fill="#9f9f9f"/>
<circle cx="101.4" cy="285.2" r="0.45" fill="#9f9f9f"/>
<circle cx="109.3" cy="285.6" r="0.45" fill="#9f9f9f"/>
<circle cx="101.3" cy="292.0" r="0.45" fill="#9f9f9f"/>
<circle cx="108.2" cy="291.0" r="0.45" fill="#9f9f9f"/>
<circle cx="103.4" cy="288.5" r="0.45" fill="#9f9f9f"/>
<circle cx="110.1" cy="289.1" r="0.45" fill="#9f9f9f"/>
<circle cx="105.4" cy="289.7" r="0.45" fill="#9f9f9f"/>
<circle cx="102.3" cy="286.7" r="0.45" fill="#9f9f9f"/>
<circle cx="98.7" cy="291.9" r="0.45" fill="#9f9f9f"/>
<circle cx="105.3" cy="283.3" r="0.45" fill="#9f9f9f"/>
<circle cx="97.0" cy="282.5" r="0.45" fill="#9f9f9f"/>
<circle cx="105.2" cy="288.8" r="0.45" fill="#9f9f9f"/>
<circle cx="110.7" cy="301.2" r="0.45" fill="#c9c9c9"/>
<circle cx="106.9" cy="296.1" r="0.45" fill="#c9c9c9"/>
<circle cx="112.8" cy="293.1" r="0.45" fill="#c9c9c9"/>
<circle cx="104.4" cy="299.4" r="0.45" fill="#c9c9c9"/>
<circle cx="122.9" cy="302.0" r="0.45" fill="#c9c9c9"/>
<circle cx="120.7" cy="299.7" r="0.45" fill="#c9c9c9"/>
<circle cx="102.6" cy="296.5" r="0.45" fill="#c9c9c9"/>
<circle cx="110.0" cy="302.4" r="0.45" fill="#c9c9c9"/>
<circle cx="107.8" cy="296.6" r="0.45" fill="#c9c9c9"/>
<circle cx="114.7" cy="306.0" r="0.45" fill="#c9c9c9"/>
<circle cx="105.5" cy="298.9" r="0.45" fill="#c9c9c9"/>
<circle cx="115.1" cy="295.8" r="0.45" fill="#c9c9c9"/>
<circle cx="118.3" cy="303.3" r="0.45" fill="#c9c9c9"/>
<circle cx="110.1" cy="295.9" r="0.45" fill="#c9c9c9"/>
<circle cx="119.0" cy="296.2" r="0.45" fill="#c9c9c9"/>
<circle cx="102.2" cy="303.6" r="0.45" fill="#c9c9c9"/>
<g filter="url(#bl)">
<path d="M97,283 Q101,279.5 106,281 Q109,284 108,289 Q103,292 98,290 Q96,287 97,283 Z" fill="none" stroke="#a6a6a6" stroke-width="0.7"/>
<path d="M99,284 Q102,282.5 105,283.5 Q106,286.5 104.5,288.5 Q101,289.5 99.5,288 Z" fill="none" stroke="#b2b2b2" stroke-width="0.6"/>
<path d="M109.5,281 Q111,278 116.5,277.8 Q122.5,278.5 124,284 Q123.5,289.5 119,290.5 Q113,290 110.5,287 Z" fill="#9d9d9d" stroke="#8c8c8c" stroke-width="0.7"/>
<path d="M110,281 Q112,278.2 116.5,278 Q121,278.6 122.8,282" fill="none" stroke="#404040" stroke-width="1"/>
<path d="M111,282 Q115.5,279.8 120,281.5 Q121,285 119.5,288.5 Q116,285.5 111,282 Z" fill="#343434"/>
<ellipse cx="116.6" cy="286" rx="1.8" ry="1.3" fill="#c1c1c1"/>
<path d="M97,298 L99.5,302.5 L101.5,297 L104,303.5 L106.5,297.5 L108,302" fill="none" stroke="#9f9f9f" stroke-width="0.7"/>
<path d="M112.5,296 Q118,292.5 121.5,297 Q120.5,302 115,303.5 Q112,301 112.5,296 Z" fill="none" stroke="#acacac" stroke-width="0.7"/>
</g>
<g filter="url(#bl2)">
<rect x="163" y="278" width="28.5" height="28.5" rx="7" fill="#c7c7c7"/>
</g>
<circle cx="169.8" cy="305.6" r="0.45" fill="#8d8d8d"/>
<circle cx="175.9" cy="282.6" r="0.45" fill="#8d8d8d"/>
<circle cx="167.7" cy="289.5" r="0.45" fill="#8d8d8d"/>
<circle cx="181.0" cy="305.5" r="0.45" fill="#8d8d8d"/>
<circle cx="165.4" cy="288.8" r="0.45" fill="#8d8d8d"/>
<circle cx="162.8" cy="288.8" r="0.45" fill="#8d8d8d"/>
<circle cx="188.9" cy="286.9" r="0.45" fill="#8d8d8d"/>
<circle cx="180.9" cy="288.4" r="0.45" fill="#8d8d8d"/>
<circle cx="172.2" cy="287.0" r="0.45" fill="#8d8d8d"/>
<circle cx="169.4" cy="287.5" r="0.45" fill="#8d8d8d"/>
<circle cx="171.7" cy="301.6" r="0.45" fill="#8d8d8d"/>
<circle cx="185.7" cy="290.0" r="0.45" fill="#8d8d8d"/>
<circle cx="162.5" cy="291.2" r="0.45" fill="#8d8d8d"/>
<circle cx="172.2" cy="304.6" r="0.45" fill="#8d8d8d"/>
<circle cx="166.8" cy="287.9" r="0.45" fill="#8d8d8d"/>
<circle cx="173.3" cy="301.4" r="0.45" fill="#8d8d8d"/>
<circle cx="188.6" cy="284.7" r="0.45" fill="#8d8d8d"/>
<circle cx="183.4" cy="304.0" r="0.45" fill="#8d8d8d"/>
<circle cx="171.2" cy="285.2" r="0.45" fill="#8d8d8d"/>
<circle cx="189.7" cy="295.5" r="0.45" fill="#8d8d8d"/>
<circle cx="168.9" cy="298.5" r="0.45" fill="#8d8d8d"/>
<circle cx="170.5" cy="285.3" r="0.45" fill="#8d8d8d"/>
<circle cx="188.5" cy="296.0" r="0.45" fill="#8d8d8d"/>
<circle cx="168.0" cy="291.3" r="0.45" fill="#8d8d8d"/>
<circle cx="172.6" cy="284.5" r="0.45" fill="#8d8d8d"/>
<circle cx="173.9" cy="291.8" r="0.45" fill="#8d8d8d"/>
<circle cx="185.1" cy="299.2" r="0.45" fill="#8d8d8d"/>
<circle cx="185.7" cy="300.2" r="0.45" fill="#8d8d8d"/>
<circle cx="179.2" cy="286.8" r="0.45" fill="#8d8d8d"/>
<circle cx="170.6" cy="287.9" r="0.45" fill="#8d8d8d"/>
<circle cx="166.9" cy="299.6" r="0.45" fill="#8d8d8d"/>
<circle cx="162.0" cy="293.6" r="0.45" fill="#8d8d8d"/>
<circle cx="168.9" cy="279.5" r="0.45" fill="#8d8d8d"/>
<circle cx="163.9" cy="292.0" r="0.45" fill="#8d8d8d"/>
<circle cx="182.3" cy="290.4" r="0.45" fill="#8d8d8d"/>
<circle cx="168.0" cy="289.5" r="0.45" fill="#8d8d8d"/>
<circle cx="179.6" cy="297.2" r="0.45" fill="#8d8d8d"/>
<circle cx="183.4" cy="302.4" r="0.45" fill="#8d8d8d"/>
<circle cx="180.9" cy="280.6" r="0.45" fill="#8d8d8d"/>
<circle cx="186.2" cy="285.8" r="0.45" fill="#8d8d8d"/>
<circle cx="178.0" cy="288.2" r="0.45" fill="#8d8d8d"/>
<circle cx="183.1" cy="283.0" r="0.45" fill="#8d8d8d"/>
<circle cx="168.4" cy="284.4" r="0.45" fill="#8d8d8d"/>
<circle cx="178.3" cy="286.8" r="0.45" fill="#8d8d8d"/>
<circle cx="176.2" cy="283.9" r="0.45" fill="#8d8d8d"/>
<g filter="url(#bl)">
<path d="M165,284.5 Q168,281.5 172,281.8 Q176.5,282.5 177,288 Q176,292.5 171,293 Q166,292.5 165,288.5 Z" fill="#acacac" stroke="#585858" stroke-width="0.8"/>
<ellipse cx="170.8" cy="287.2" rx="2.6" ry="2.6" fill="#dadada"/>
<path d="M164.6,284 Q167.5,280.6 172,281 Q177,281.5 180,281.2 L186.5,280.2 Q189.5,281.5 190,284 L190,289.8" fill="none" stroke="#000000" stroke-width="1.4"/>
<path d="M180,283 L187,282.5 L188.5,289.5 L181,290.5 Z" fill="#8d8d8d"/>
<path d="M182,284.5 L186,284.3 L186.6,288 L182.5,288.3 Z" fill="#d3d3d3"/>
<path d="M164,293.5 Q164.3,302 169.8,305 Q174,304.6 174.7,298.5" fill="none" stroke="#000000" stroke-width="1.7"/>
<ellipse cx="169.5" cy="299.2" rx="3.2" ry="3.8" fill="#dedede"/>
<path d="M179.5,294.5 Q186,292.5 190.5,295.5 Q189,302.5 182,305.5 Q179.5,301 179.5,294.5 Z" fill="#d1d1d1" stroke="#8c8c8c" stroke-width="0.8"/>
</g>
<g filter="url(#bl2)">
<ellipse cx="241" cy="296" rx="8.5" ry="9.5" fill="#c5c5c5"/>
<ellipse cx="256" cy="290" rx="8" ry="9" fill="#c5c5c5"/>
<ellipse cx="241" cy="286" rx="7" ry="4" fill="#dcdcdc"/>
</g>
<circle cx="256.9" cy="296.3" r="0.45" fill="#9f9f9f"/>
<circle cx="246.2" cy="300.9" r="0.45" fill="#9f9f9f"/>
<circle cx="234.8" cy="283.3" r="0.45" fill="#9f9f9f"/>
<circle cx="262.1" cy="294.3" r="0.45" fill="#9f9f9f"/>
<circle cx="260.8" cy="288.4" r="0.45" fill="#9f9f9f"/>
<circle cx="258.7" cy="290.6" r="0.45" fill="#9f9f9f"/>
<circle cx="239.3" cy="299.8" r="0.45" fill="#9f9f9f"/>
<circle cx="250.1" cy="295.4" r="0.45" fill="#9f9f9f"/>
<circle cx="238.0" cy="288.3" r="0.45" fill="#9f9f9f"/>
<circle cx="235.5" cy="283.7" r="0.45" fill="#9f9f9f"/>
<circle cx="239.2" cy="294.8" r="0.45" fill="#9f9f9f"/>
<circle cx="251.9" cy="283.7" r="0.45" fill="#9f9f9f"/>
<circle cx="252.7" cy="283.2" r="0.45" fill="#9f9f9f"/>
<circle cx="241.0" cy="283.7" r="0.45" fill="#9f9f9f"/>
<circle cx="256.4" cy="293.3" r="0.45" fill="#9f9f9f"/>
<circle cx="243.6" cy="293.4" r="0.45" fill="#9f9f9f"/>
<circle cx="251.5" cy="280.6" r="0.45" fill="#9f9f9f"/>
<circle cx="236.2" cy="297.5" r="0.45" fill="#9f9f9f"/>
<circle cx="244.1" cy="285.9" r="0.45" fill="#9f9f9f"/>
<circle cx="240.8" cy="304.7" r="0.45" fill="#9f9f9f"/>
<circle cx="241.0" cy="293.9" r="0.45" fill="#9f9f9f"/>
<circle cx="242.4" cy="289.7" r="0.45" fill="#9f9f9f"/>
<circle cx="242.6" cy="283.5" r="0.45" fill="#9f9f9f"/>
<circle cx="254.3" cy="283.7" r="0.45" fill="#9f9f9f"/>
<circle cx="244.6" cy="301.0" r="0.45" fill="#9f9f9f"/>
<circle cx="244.0" cy="302.7" r="0.45" fill="#9f9f9f"/>
<circle cx="245.7" cy="282.6" r="0.45" fill="#9f9f9f"/>
<circle cx="231.5" cy="293.4" r="0.45" fill="#9f9f9f"/>
<circle cx="251.5" cy="303.5" r="0.45" fill="#9f9f9f"/>
<circle cx="233.8" cy="295.4" r="0.45" fill="#9f9f9f"/>
<circle cx="242.9" cy="292.1" r="0.45" fill="#9f9f9f"/>
<circle cx="235.7" cy="285.9" r="0.45" fill="#9f9f9f"/>
<circle cx="247.7" cy="303.9" r="0.45" fill="#9f9f9f"/>
<circle cx="234.5" cy="291.7" r="0.45" fill="#9f9f9f"/>
<circle cx="237.3" cy="281.5" r="0.45" fill="#9f9f9f"/>
<circle cx="246.4" cy="279.5" r="0.45" fill="#9f9f9f"/>
<circle cx="260.6" cy="288.9" r="0.45" fill="#9f9f9f"/>
<circle cx="259.9" cy="295.4" r="0.45" fill="#9f9f9f"/>
<circle cx="257.4" cy="282.5" r="0.45" fill="#9f9f9f"/>
<circle cx="256.1" cy="284.2" r="0.45" fill="#9f9f9f"/>
<circle cx="243.9" cy="301.7" r="0.45" fill="#9f9f9f"/>
<circle cx="257.5" cy="283.1" r="0.45" fill="#9f9f9f"/>
<circle cx="238.0" cy="289.2" r="0.45" fill="#9f9f9f"/>
<circle cx="247.6" cy="288.7" r="0.45" fill="#9f9f9f"/>
<circle cx="234.9" cy="284.9" r="0.45" fill="#9f9f9f"/>
<g filter="url(#bl)">
<ellipse cx="241" cy="298.5" rx="5.4" ry="7" transform="rotate(-20 241 298.5)" fill="#bcbcbc" stroke="#000000" stroke-width="1.6"/>
<ellipse cx="241.5" cy="298.5" rx="2" ry="3.2" transform="rotate(-20 241 298.5)" fill="#f2f2f2"/>
<path d="M251,286.5 Q255,281 259.5,283 Q263.2,287 262.6,293.5" fill="none" stroke="#000000" stroke-width="1.5"/>
<path d="M251,287 Q250,295 256,298 Q262,299 262.5,293" fill="#acacac" stroke="#666666" stroke-width="0.7"/>
<path d="M236,286 Q241,283.5 247,286" fill="none" stroke="#9f9f9f" stroke-width="0.7"/>
</g>
<g filter="url(#bl2)">
<ellipse cx="103" cy="352" rx="7.5" ry="15" fill="#c9c9c9"/>
<ellipse cx="117.5" cy="345.5" rx="7" ry="7" fill="#bababa"/>
</g>
<circle cx="114.3" cy="361.1" r="0.45" fill="#9a9a9a"/>
<circle cx="95.2" cy="351.7" r="0.45" fill="#9a9a9a"/>
<circle cx="110.8" cy="351.4" r="0.45" fill="#9a9a9a"/>
<circle cx="111.6" cy="344.6" r="0.45" fill="#9a9a9a"/>
<circle cx="105.8" cy="352.3" r="0.45" fill="#9a9a9a"/>
<circle cx="105.9" cy="354.4" r="0.45" fill="#9a9a9a"/>
<circle cx="106.5" cy="348.3" r="0.45" fill="#9a9a9a"/>
<circle cx="94.7" cy="353.3" r="0.45" fill="#9a9a9a"/>
<circle cx="107.7" cy="342.6" r="0.45" fill="#9a9a9a"/>
<circle cx="115.4" cy="357.8" r="0.45" fill="#9a9a9a"/>
<circle cx="106.8" cy="341.0" r="0.45" fill="#9a9a9a"/>
<circle cx="107.3" cy="339.0" r="0.45" fill="#9a9a9a"/>
<circle cx="97.6" cy="348.1" r="0.45" fill="#9a9a9a"/>
<circle cx="96.6" cy="348.4" r="0.45" fill="#9a9a9a"/>
<circle cx="108.3" cy="337.1" r="0.45" fill="#9a9a9a"/>
<circle cx="111.8" cy="338.3" r="0.45" fill="#9a9a9a"/>
<circle cx="114.5" cy="357.8" r="0.45" fill="#9a9a9a"/>
<circle cx="108.3" cy="337.5" r="0.45" fill="#9a9a9a"/>
<circle cx="108.1" cy="346.6" r="0.45" fill="#9a9a9a"/>
<circle cx="114.5" cy="358.8" r="0.45" fill="#9a9a9a"/>
<circle cx="107.8" cy="362.8" r="0.45" fill="#9a9a9a"/>
<circle cx="95.8" cy="345.8" r="0.45" fill="#9a9a9a"/>
<circle cx="115.2" cy="340.4" r="0.45" fill="#9a9a9a"/>
<circle cx="119.1" cy="343.7" r="0.45" fill="#9a9a9a"/>
<circle cx="116.8" cy="340.0" r="0.45" fill="#9a9a9a"/>
<circle cx="108.1" cy="361.8" r="0.45" fill="#9a9a9a"/>
<circle cx="99.8" cy="343.4" r="0.45" fill="#9a9a9a"/>
<circle cx="108.2" cy="344.9" r="0.45" fill="#9a9a9a"/>
<circle cx="113.0" cy="361.1" r="0.45" fill="#9a9a9a"/>
<circle cx="98.7" cy="358.0" r="0.45" fill="#9a9a9a"/>
<circle cx="97.2" cy="350.9" r="0.45" fill="#9a9a9a"/>
<circle cx="111.8" cy="346.1" r="0.45" fill="#9a9a9a"/>
<circle cx="118.4" cy="351.5" r="0.45" fill="#9a9a9a"/>
<circle cx="110.2" cy="360.7" r="0.45" fill="#9a9a9a"/>
<circle cx="111.6" cy="347.0" r="0.45" fill="#9a9a9a"/>
<g filter="url(#bl)">
<path d="M111,340 Q117,337.5 122.5,342 Q124.5,348 120,352 Q114,352.5 111.5,348 Z" fill="#afafaf" stroke="#797979" stroke-width="0.8"/>
<path d="M113,342 Q117,340.5 120,343.5 Q120.5,347.5 117,349 Q114,348 113,345 Z" fill="#d1d1d1" stroke="#8c8c8c" stroke-width="0.6"/>
<path d="M99.5,343 Q104,342.5 105,343 Q103.5,348 102,352 Q100,347.5 99.5,343 Z" fill="#a6a6a6"/>
<path d="M97.3,341.8 Q100,339.6 104,339.8 Q110,339.9 114.8,339.4" fill="none" stroke="#000000" stroke-width="1.9"/>
<path d="M97.8,341.8 Q99,349 101.6,354 M105.8,341.8 Q104.6,348 102.4,354" fill="none" stroke="#000000" stroke-width="1.6"/>
<path d="M99.5,356 L99.8,368 M101.8,355 L102,369 M104.2,355 L104.3,369 M106.5,357 L106.5,368" stroke="#8d8d8d" stroke-width="0.9"/>
</g>
<g filter="url(#bl2)">
<rect x="164.5" y="340" width="12" height="29.5" rx="3" fill="#b5b5b5"/>
<rect x="165" y="354" width="11" height="15.5" rx="2" fill="#9d9d9d"/>
<ellipse cx="186" cy="346" rx="7.5" ry="6.5" fill="#d1d1d1"/>
</g>
<circle cx="176.4" cy="344.5" r="0.45" fill="#8c8c8c"/>
<circle cx="179.8" cy="354.5" r="0.45" fill="#8c8c8c"/>
<circle cx="168.5" cy="360.5" r="0.45" fill="#8c8c8c"/>
<circle cx="170.0" cy="341.7" r="0.45" fill="#8c8c8c"/>
<circle cx="176.8" cy="344.1" r="0.45" fill="#8c8c8c"/>
<circle cx="172.5" cy="357.2" r="0.45" fill="#8c8c8c"/>
<circle cx="173.1" cy="349.8" r="0.45" fill="#8c8c8c"/>
<circle cx="171.2" cy="364.7" r="0.45" fill="#8c8c8c"/>
<circle cx="164.4" cy="343.3" r="0.45" fill="#8c8c8c"/>
<circle cx="163.9" cy="347.4" r="0.45" fill="#8c8c8c"/>
<circle cx="166.0" cy="354.7" r="0.45" fill="#8c8c8c"/>
<circle cx="172.6" cy="342.5" r="0.45" fill="#8c8c8c"/>
<circle cx="173.2" cy="351.2" r="0.45" fill="#8c8c8c"/>
<circle cx="166.4" cy="340.8" r="0.45" fill="#8c8c8c"/>
<circle cx="163.7" cy="356.4" r="0.45" fill="#8c8c8c"/>
<circle cx="177.7" cy="361.0" r="0.45" fill="#8c8c8c"/>
<circle cx="169.2" cy="344.5" r="0.45" fill="#8c8c8c"/>
<circle cx="172.1" cy="347.2" r="0.45" fill="#8c8c8c"/>
<circle cx="173.6" cy="350.2" r="0.45" fill="#8c8c8c"/>
<circle cx="178.9" cy="359.5" r="0.45" fill="#8c8c8c"/>
<circle cx="166.5" cy="364.9" r="0.45" fill="#8c8c8c"/>
<circle cx="162.8" cy="353.0" r="0.45" fill="#8c8c8c"/>
<circle cx="169.3" cy="343.6" r="0.45" fill="#8c8c8c"/>
<circle cx="162.2" cy="353.6" r="0.45" fill="#8c8c8c"/>
<circle cx="165.6" cy="355.5" r="0.45" fill="#8c8c8c"/>
<circle cx="171.1" cy="356.5" r="0.45" fill="#8c8c8c"/>
<circle cx="176.6" cy="341.6" r="0.45" fill="#8c8c8c"/>
<circle cx="167.6" cy="345.6" r="0.45" fill="#8c8c8c"/>
<circle cx="176.1" cy="358.9" r="0.45" fill="#8c8c8c"/>
<circle cx="175.4" cy="350.9" r="0.45" fill="#8c8c8c"/>
<circle cx="175.4" cy="350.5" r="0.45" fill="#8c8c8c"/>
<circle cx="166.1" cy="339.4" r="0.45" fill="#8c8c8c"/>
<circle cx="168.0" cy="360.0" r="0.45" fill="#8c8c8c"/>
<circle cx="174.5" cy="363.1" r="0.45" fill="#8c8c8c"/>
<circle cx="174.8" cy="344.5" r="0.45" fill="#8c8c8c"/>
<circle cx="187.0" cy="348.8" r="0.45" fill="#acacac"/>
<circle cx="191.2" cy="350.4" r="0.45" fill="#acacac"/>
<circle cx="181.8" cy="352.6" r="0.45" fill="#acacac"/>
<circle cx="181.7" cy="345.2" r="0.45" fill="#acacac"/>
<circle cx="190.4" cy="346.9" r="0.45" fill="#acacac"/>
<circle cx="192.8" cy="346.9" r="0.45" fill="#acacac"/>
<circle cx="181.3" cy="357.3" r="0.45" fill="#acacac"/>
<circle cx="188.4" cy="353.5" r="0.45" fill="#acacac"/>
<circle cx="185.5" cy="356.1" r="0.45" fill="#acacac"/>
<circle cx="189.6" cy="356.4" r="0.45" fill="#acacac"/>
<circle cx="184.9" cy="354.0" r="0.45" fill="#acacac"/>
<circle cx="187.3" cy="346.5" r="0.45" fill="#acacac"/>
<circle cx="180.8" cy="352.2" r="0.45" fill="#acacac"/>
<circle cx="183.2" cy="343.6" r="0.45" fill="#acacac"/>
<circle cx="189.5" cy="352.4" r="0.45" fill="#acacac"/>
<circle cx="189.5" cy="354.3" r="0.45" fill="#acacac"/>
<circle cx="178.2" cy="351.6" r="0.45" fill="#acacac"/>
<circle cx="183.5" cy="355.7" r="0.45" fill="#acacac"/>
<circle cx="178.9" cy="344.7" r="0.45" fill="#acacac"/>
<circle cx="192.3" cy="355.6" r="0.45" fill="#acacac"/>
<circle cx="188.4" cy="355.9" r="0.45" fill="#acacac"/>
<circle cx="188.4" cy="346.2" r="0.45" fill="#acacac"/>
<circle cx="190.6" cy="344.7" r="0.45" fill="#acacac"/>
<circle cx="182.7" cy="348.6" r="0.45" fill="#acacac"/>
<circle cx="182.1" cy="353.9" r="0.45" fill="#acacac"/>
<g filter="url(#bl)">
<path d="M166,341 L166,353 M168,340 L168,353 M170,340 L170,353 M172,340 L172,353 M174,341 L174,353" stroke="#9a9a9a" stroke-width="0.7"/>
<path d="M167.4,355 L168.9,370" stroke="#000000" stroke-width="2.1"/>
<path d="M170.7,355 L170.4,370" stroke="#1a1a1a" stroke-width="1.2"/>
<path d="M173.5,356 L173.3,369" stroke="#666666" stroke-width="0.9"/>
<path d="M180.5,342 Q186,338.5 191.5,342.5 Q193,350 186,353 Q181,351 180.5,342 Z" fill="#cacaca" stroke="#8d8d8d" stroke-width="0.7"/>
<path d="M183,344 Q186,342.5 189,345 Q188.5,348.5 185.5,349.5" fill="none" stroke="#9f9f9f" stroke-width="0.6"/>
</g>
<g filter="url(#bl2)">
<ellipse cx="240.5" cy="355" rx="6.5" ry="13.5" fill="#b8b8b8"/>
<ellipse cx="240.5" cy="342" rx="7.5" ry="3.5" fill="#cccccc"/>
</g>
<circle cx="238.6" cy="346.6" r="0.45" fill="#949494"/>
<circle cx="249.4" cy="352.1" r="0.45" fill="#949494"/>
<circle cx="247.3" cy="355.5" r="0.45" fill="#949494"/>
<circle cx="232.6" cy="349.4" r="0.45" fill="#949494"/>
<circle cx="239.9" cy="360.2" r="0.45" fill="#949494"/>
<circle cx="238.2" cy="358.1" r="0.45" fill="#949494"/>
<circle cx="241.7" cy="343.5" r="0.45" fill="#949494"/>
<circle cx="246.8" cy="342.1" r="0.45" fill="#949494"/>
<circle cx="232.1" cy="351.7" r="0.45" fill="#949494"/>
<circle cx="240.8" cy="360.9" r="0.45" fill="#949494"/>
<circle cx="235.3" cy="351.8" r="0.45" fill="#949494"/>
<circle cx="238.2" cy="362.0" r="0.45" fill="#949494"/>
<circle cx="237.1" cy="343.4" r="0.45" fill="#949494"/>
<circle cx="244.6" cy="351.9" r="0.45" fill="#949494"/>
<circle cx="234.0" cy="356.1" r="0.45" fill="#949494"/>
<circle cx="244.5" cy="360.6" r="0.45" fill="#949494"/>
<circle cx="243.3" cy="347.7" r="0.45" fill="#949494"/>
<circle cx="239.2" cy="348.8" r="0.45" fill="#949494"/>
<circle cx="235.7" cy="344.9" r="0.45" fill="#949494"/>
<circle cx="248.2" cy="352.0" r="0.45" fill="#949494"/>
<circle cx="238.8" cy="363.5" r="0.45" fill="#949494"/>
<circle cx="236.2" cy="350.8" r="0.45" fill="#949494"/>
<circle cx="241.6" cy="359.6" r="0.45" fill="#949494"/>
<circle cx="245.6" cy="356.4" r="0.45" fill="#949494"/>
<circle cx="238.3" cy="346.8" r="0.45" fill="#949494"/>
<circle cx="234.8" cy="362.3" r="0.45" fill="#949494"/>
<circle cx="243.9" cy="359.3" r="0.45" fill="#949494"/>
<circle cx="235.1" cy="350.2" r="0.45" fill="#949494"/>
<circle cx="245.9" cy="354.4" r="0.45" fill="#949494"/>
<circle cx="234.3" cy="350.9" r="0.45" fill="#949494"/>
<circle cx="247.9" cy="344.1" r="0.45" fill="#949494"/>
<circle cx="235.4" cy="346.0" r="0.45" fill="#949494"/>
<circle cx="244.7" cy="362.3" r="0.45" fill="#949494"/>
<circle cx="234.8" cy="341.7" r="0.45" fill="#949494"/>
<circle cx="236.5" cy="346.8" r="0.45" fill="#949494"/>
<circle cx="255.4" cy="343.9" r="0.45" fill="#b7b7b7"/>
<circle cx="251.9" cy="344.4" r="0.45" fill="#b7b7b7"/>
<circle cx="247.8" cy="347.9" r="0.45" fill="#b7b7b7"/>
<circle cx="259.2" cy="348.8" r="0.45" fill="#b7b7b7"/>
<circle cx="249.5" cy="352.5" r="0.45" fill="#b7b7b7"/>
<circle cx="247.9" cy="344.7" r="0.45" fill="#b7b7b7"/>
<circle cx="253.0" cy="341.6" r="0.45" fill="#b7b7b7"/>
<circle cx="253.2" cy="355.2" r="0.45" fill="#b7b7b7"/>
<circle cx="258.5" cy="350.0" r="0.45" fill="#b7b7b7"/>
<circle cx="257.4" cy="349.3" r="0.45" fill="#b7b7b7"/>
<circle cx="248.6" cy="351.9" r="0.45" fill="#b7b7b7"/>
<circle cx="253.3" cy="354.3" r="0.45" fill="#b7b7b7"/>
<circle cx="262.3" cy="348.7" r="0.45" fill="#b7b7b7"/>
<circle cx="256.3" cy="354.5" r="0.45" fill="#b7b7b7"/>
<circle cx="253.6" cy="345.1" r="0.45" fill="#b7b7b7"/>
<circle cx="259.0" cy="356.8" r="0.45" fill="#b7b7b7"/>
<circle cx="259.9" cy="353.6" r="0.45" fill="#b7b7b7"/>
<circle cx="261.3" cy="353.2" r="0.45" fill="#b7b7b7"/>
<g filter="url(#bl)">
<path d="M234.8,342.5 Q240,338.6 245.8,342.5 M236,344 Q240,341 244.5,344" fill="none" stroke="#7b7b7b" stroke-width="0.8"/>
<path d="M237,345 L237.5,352 M239,344 L239,352 M241,344 L241,352 M243,345 L243,352" stroke="#8c8c8c" stroke-width="0.7"/>
<path d="M237.4,350.5 Q237.2,360 239,366.5 Q240.5,367.8 241.5,366 Q242.5,358 241.8,350" fill="#a6a6a6" stroke="#000000" stroke-width="1.6"/>
<path d="M243.8,351 Q244.8,358 243.2,366" fill="none" stroke="#2d2d2d" stroke-width="1.1"/>
<ellipse cx="254.5" cy="346.5" rx="4.3" ry="2.8" transform="rotate(-25 254.5 346.5)" fill="none" stroke="#8c8c8c" stroke-width="0.8"/>
<ellipse cx="254.5" cy="346.5" rx="6" ry="4.3" transform="rotate(-25 254.5 346.5)" fill="none" stroke="#bcbcbc" stroke-width="0.7"/>
<path d="M252,356 L251,366 M255,356 L256.5,366" stroke="#c1c1c1" stroke-width="0.7"/>
</g>
<rect x="93.4" y="144.4" width="37.599999999999994" height="22.0" fill="none" stroke="#303030" stroke-width="0.95"/>
<line x1="109.8" y1="144.4" x2="109.8" y2="166.4" stroke="#111" stroke-width="1.6"/>
<rect x="162.3" y="144.4" width="37.5" height="22.0" fill="none" stroke="#303030" stroke-width="0.95"/>
<line x1="178.5" y1="144.4" x2="178.5" y2="166.4" stroke="#111" stroke-width="1.6"/>
<rect x="231.3" y="144.4" width="37.30000000000001" height="22.19999999999999" fill="none" stroke="#303030" stroke-width="0.95"/>
<line x1="247.0" y1="144.4" x2="247.0" y2="166.6" stroke="#111" stroke-width="1.6"/>
<rect x="93.4" y="203.8" width="37.400000000000006" height="24.399999999999977" fill="none" stroke="#303030" stroke-width="0.95"/>
<line x1="110.0" y1="203.8" x2="110.0" y2="228.2" stroke="#111" stroke-width="1.6"/>
<rect x="162.4" y="204.0" width="36.79999999999998" height="24.30000000000001" fill="none" stroke="#303030" stroke-width="0.95"/>
<line x1="178.6" y1="204.0" x2="178.6" y2="228.3" stroke="#111" stroke-width="1.6"/>
<rect x="231.4" y="204.0" width="36.20000000000002" height="24.30000000000001" fill="none" stroke="#303030" stroke-width="0.95"/>
<line x1="247.0" y1="204.0" x2="247.0" y2="228.3" stroke="#111" stroke-width="1.6"/>
<text x="95.3" y="141.6" font-size="7.4" fill="#0a0a0a">T<tspan font-size="4.884" dy="1.5">EM</tspan><tspan dy="-1.5">:8</tspan></text>
<text x="118.0" y="141.6" font-size="7.4" fill="#0a0a0a">T<tspan font-size="4.884" dy="1.5">CM</tspan><tspan dy="-1.5">:91</tspan></text>
<text x="171.5" y="142.4" font-size="7.5" text-anchor="middle" fill="#0a0a0a" >13</text>
<text x="191.7" y="142.4" font-size="7.5" text-anchor="middle" fill="#0a0a0a" >81</text>
<text x="239.2" y="142.4" font-size="7.5" text-anchor="middle" fill="#0a0a0a" >48</text>
<text x="259.2" y="142.4" font-size="7.5" text-anchor="middle" fill="#0a0a0a" >46</text>
<text x="102.1" y="201.6" font-size="7.5" text-anchor="middle" fill="#0a0a0a" >46</text>
<text x="122.3" y="201.6" font-size="7.5" text-anchor="middle" fill="#0a0a0a" >54</text>
<text x="171.5" y="201.6" font-size="7.5" text-anchor="middle" fill="#0a0a0a" >35</text>
<text x="191.7" y="201.6" font-size="7.5" text-anchor="middle" fill="#0a0a0a" >58</text>
<text x="239.2" y="201.6" font-size="7.5" text-anchor="middle" fill="#0a0a0a" >70</text>
<text x="259.2" y="201.6" font-size="7.5" text-anchor="middle" fill="#0a0a0a" >28</text>
<rect x="94.4" y="272.5" width="15.399999999999991" height="21.0" fill="none" stroke="#303030" stroke-width="0.95"/>
<rect x="94.4" y="293.5" width="15.399999999999991" height="14.5" fill="none" stroke="#303030" stroke-width="0.95"/>
<polygon points="110.6,272.5 128.3,272.5 128.3,288.3 121.8,294.4 110.6,291.6" fill="none" stroke="#303030" stroke-width="0.95"/>
<rect x="162.6" y="272.5" width="15.700000000000017" height="21.30000000000001" fill="none" stroke="#303030" stroke-width="0.95"/>
<rect x="162.6" y="293.8" width="15.700000000000017" height="13.699999999999989" fill="none" stroke="#303030" stroke-width="0.95"/>
<polygon points="179.10000000000002,272.5 197.2,272.5 197.2,288.4 190.4,293.4 179.10000000000002,291.8" fill="none" stroke="#303030" stroke-width="0.95"/>
<rect x="232.4" y="273.3" width="15.400000000000006" height="17.899999999999977" fill="none" stroke="#303030" stroke-width="0.95"/>
<rect x="232.4" y="291.2" width="15.400000000000006" height="16.80000000000001" fill="none" stroke="#303030" stroke-width="0.95"/>
<polygon points="248.60000000000002,273.3 266.2,273.3 266.2,290.0 259.8,295.5 248.60000000000002,292.3" fill="none" stroke="#303030" stroke-width="0.95"/>
<rect x="94.4" y="333.6" width="15.5" height="21.69999999999999" fill="none" stroke="#303030" stroke-width="0.95"/>
<rect x="94.4" y="355.3" width="15.5" height="14.0" fill="none" stroke="#303030" stroke-width="0.95"/>
<polygon points="110.7,333.6 128.8,333.6 128.8,350.0 122.8,355.3 110.7,351.6" fill="none" stroke="#303030" stroke-width="0.95"/>
<rect x="162.6" y="333.8" width="15.700000000000017" height="21.099999999999966" fill="none" stroke="#303030" stroke-width="0.95"/>
<rect x="162.6" y="354.9" width="15.700000000000017" height="14.400000000000034" fill="none" stroke="#303030" stroke-width="0.95"/>
<polygon points="179.10000000000002,333.8 197.2,333.8 197.2,349.5 190.7,354.8 179.10000000000002,352.4" fill="none" stroke="#303030" stroke-width="0.95"/>
<rect x="232.4" y="334.5" width="15.400000000000006" height="17.69999999999999" fill="none" stroke="#303030" stroke-width="0.95"/>
<rect x="232.4" y="352.2" width="15.400000000000006" height="17.100000000000023" fill="none" stroke="#303030" stroke-width="0.95"/>
<polygon points="248.60000000000002,334.5 266.4,334.5 266.4,351.4 260.3,356.4 248.60000000000002,353.4" fill="none" stroke="#303030" stroke-width="0.95"/>
<text x="95.4" y="269.0" font-size="7.4" fill="#0a0a0a">T<tspan font-size="4.884" dy="1.5">EM</tspan><tspan dy="-1.5">:12</tspan></text>
<text x="119.6" y="269.0" font-size="7.4" fill="#0a0a0a">T<tspan font-size="4.884" dy="1.5">CM</tspan><tspan dy="-1.5">:70</tspan></text>
<text x="120.6" y="304.2" font-size="7.4" fill="#0a0a0a">T<tspan font-size="4.884" dy="1.5">eff</tspan><tspan dy="-1.5">:6</tspan></text>
<text x="171.5" y="269.4" font-size="7.5" text-anchor="middle" fill="#0a0a0a" >17</text>
<text x="191.7" y="269.4" font-size="7.5" text-anchor="middle" fill="#0a0a0a" >27</text>
<text x="197.3" y="304.5" font-size="7.5" text-anchor="middle" fill="#0a0a0a" >44</text>
<text x="238.9" y="269.4" font-size="7.5" text-anchor="middle" fill="#0a0a0a" >6</text>
<text x="259.9" y="269.4" font-size="7.5" text-anchor="middle" fill="#0a0a0a" >30</text>
<text x="271.9" y="304.5" font-size="7.5" text-anchor="middle" fill="#0a0a0a" >45</text>
<text x="101.7" y="328.3" font-size="7.5" text-anchor="middle" fill="#0a0a0a" >50</text>
<text x="122.1" y="328.3" font-size="7.5" text-anchor="middle" fill="#0a0a0a" >35</text>
<text x="126.6" y="366.0" font-size="7.5" text-anchor="middle" fill="#0a0a0a" >14</text>
<text x="171.8" y="328.3" font-size="7.5" text-anchor="middle" fill="#0a0a0a" >12</text>
<text x="191.7" y="328.3" font-size="7.5" text-anchor="middle" fill="#0a0a0a" >12</text>
<text x="197.7" y="366.0" font-size="7.5" text-anchor="middle" fill="#0a0a0a" >73</text>
<text x="239.5" y="328.3" font-size="7.5" text-anchor="middle" fill="#0a0a0a" >21</text>
<text x="260.0" y="328.3" font-size="7.5" text-anchor="middle" fill="#0a0a0a" >6</text>
<text x="272.7" y="366.0" font-size="7.5" text-anchor="middle" fill="#0a0a0a" >70</text>
<line x1="86.8" y1="375.8" x2="86.8" y2="352" stroke="#222" stroke-width="1"/>
<path d="M84.9,353.2 L86.8,348.8 L88.7,353.2 Z" fill="#111"/>
<line x1="86.3" y1="375.8" x2="110.5" y2="375.8" stroke="#222" stroke-width="1"/>
<path d="M109.6,373.9 L113.8,375.8 L109.6,377.7 Z" fill="#111"/>
<text x="82.6" y="366" font-size="7.6" text-anchor="middle" fill="#222" transform="rotate(-90 82.6 366)" dominant-baseline="central">CD28</text>
<text x="99.0" y="386.0" font-size="7.6" text-anchor="middle" fill="#0a0a0a" >CCR7</text>
</svg>
</body></html>
